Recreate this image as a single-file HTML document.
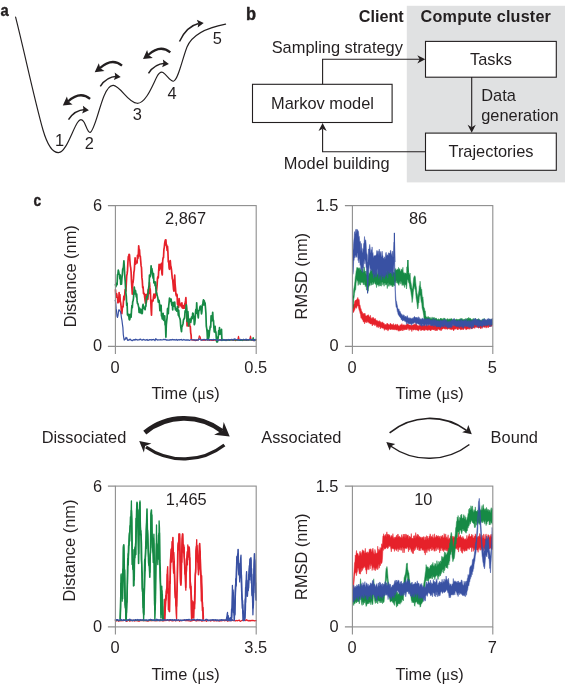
<!DOCTYPE html>
<html lang="en">
<head>
<meta charset="utf-8">
<title>Figure</title>
<style>
html,body{margin:0;padding:0;background:#fff;}
body{width:565px;height:685px;overflow:hidden;}
svg{display:block;}
svg text{font-family:"Liberation Sans","DejaVu Sans",sans-serif;fill:#231f20;}
</style>
</head>
<body>
<svg width="565" height="685" viewBox="0 0 565 685">
<rect width="565" height="685" fill="#fff"/>
<g id="panel-a">
<path fill="none" stroke="#231f20" stroke-width="1.15" stroke-linecap="round" d="M15.6 17.1 C24 50 34 98 43 130 C48 147 53 152.8 58.5 152.6 C66 152.3 72 131 77.5 122.5 C80 118.6 82 118.6 84.3 122.5 C86.5 127 87.8 132.6 90 132.4 C94 132 99 108 104 96 C107.5 87.5 110.5 85 113.5 85.4 C121 86.5 128 103 137.2 103.3 C146 103.5 153 84 157 76.5 C159.5 72 161 71.5 163 72.5 C167 75 170 81.5 173.4 81.2 C178 80.5 182 60 187 47 C192 35 205 28 225.6 24.1"/>
<path d="M68.5 119.7 Q74.5 110.2 85.0 109.6" fill="none" stroke="#231f20" stroke-width="1.5"/><path d="M88.9 110.3 L82.1 113.5 L83.5 109.7 L82.9 105.8 Z" fill="#231f20"/><path d="M90.1 98.9 Q80.0 90.5 68.0 101.5" fill="none" stroke="#231f20" stroke-width="2.3"/><path d="M62.8 105.5 L66.9 96.5 L68.4 101.5 L72.6 104.4 Z" fill="#231f20"/><path d="M100.3 86.3 Q106.3 76.8 116.8 76.2" fill="none" stroke="#231f20" stroke-width="1.5"/><path d="M120.7 76.9 L113.9 80.1 L115.3 76.3 L114.7 72.4 Z" fill="#231f20"/><path d="M122.0 65.6 Q111.9 57.2 99.9 68.2" fill="none" stroke="#231f20" stroke-width="2.3"/><path d="M94.7 72.2 L98.8 63.2 L100.3 68.2 L104.5 71.1 Z" fill="#231f20"/><path d="M148.5 73.4 Q154.5 63.9 165.0 63.3" fill="none" stroke="#231f20" stroke-width="1.5"/><path d="M168.9 64.0 L162.1 67.2 L163.5 63.4 L162.9 59.5 Z" fill="#231f20"/><path d="M170.3 52.4 Q160.2 44.0 148.2 55.0" fill="none" stroke="#231f20" stroke-width="2.3"/><path d="M143.0 59.0 L147.1 50.0 L148.6 55.0 L152.8 57.9 Z" fill="#231f20"/><path d="M179.5 41.5 Q186.5 26.5 198.5 23.6" fill="none" stroke="#231f20" stroke-width="1.5"/><path d="M203.7 22.9 L197.7 27.4 L198.3 23.5 L196.9 19.7 Z" fill="#231f20"/><text x="59.5" y="146.1" text-anchor="middle" font-size="16.4">1</text><text x="89.2" y="149.4" text-anchor="middle" font-size="16.4">2</text><text x="137.2" y="119.8" text-anchor="middle" font-size="16.4">3</text><text x="172.1" y="98.6" text-anchor="middle" font-size="16.4">4</text><text x="217.3" y="44.4" text-anchor="middle" font-size="16.4">5</text></g>
<g id="panel-b">
<rect x="406.8" y="5.8" width="159" height="176.6" fill="#e0e1e2"/>
<g fill="#fff" stroke="#231f20" stroke-width="1.1">
<rect x="425.5" y="41.4" width="130.8" height="35.8"/>
<rect x="425.5" y="133.1" width="130.8" height="37.2"/>
<rect x="252.5" y="84.3" width="139.6" height="38.2"/>
</g>
<path fill="none" stroke="#231f20" stroke-width="1.1" d="M322.6 84.3 V59.3 H420 M471.7 77 V127 M425.1 151.7 H322.6 V129"/>
<path d="M425.3 59.3 l-8 -4.1 l2.4 4.1 l-2.4 4.1 Z" fill="#231f20"/>
<path d="M471.7 132.8 l-4.1 -8 l4.1 2.4 l4.1 -2.4 Z" fill="#231f20"/>
<path d="M322.6 123.1 l-4.1 8 l4.1 -2.4 l4.1 2.4 Z" fill="#231f20"/>
<text x="403.7" y="22" text-anchor="end" font-weight="bold" font-size="16.2">Client</text><text x="420.6" y="22" text-anchor="start" font-weight="bold" font-size="16.2" textLength="130.3" lengthAdjust="spacing">Compute cluster</text><text x="402.9" y="52.8" text-anchor="end" font-size="16.4">Sampling strategy</text><text x="490.9" y="64.8" text-anchor="middle" font-size="16.4">Tasks</text><text x="322.5" y="109" text-anchor="middle" font-size="16.4">Markov model</text><text x="481.2" y="101.2" text-anchor="start" font-size="16.4">Data</text><text x="481.2" y="121" text-anchor="start" font-size="16.4">generation</text><text x="491" y="157.1" text-anchor="middle" font-size="16.4">Trajectories</text><text x="336.7" y="168.8" text-anchor="middle" font-size="16.4">Model building</text></g>
<g id="labels"><text transform="translate(0.4 15.8) scale(0.9 1)" font-weight="bold" font-size="16.4" stroke="#231f20" stroke-width="0.4" stroke-linejoin="round">a</text><text transform="translate(245.9 19.9) scale(0.94 1)" font-weight="bold" font-size="17.5" stroke="#231f20" stroke-width="0.4" stroke-linejoin="round">b</text><text transform="translate(33.5 206) scale(0.84 1)" font-weight="bold" font-size="16.4" stroke="#231f20" stroke-width="0.4" stroke-linejoin="round">c</text></g>
<g id="states"><path d="M144.8 432.6 A 62 62 0 0 1 222 431.2" fill="none" stroke="#231f20" stroke-width="4.8"/><path d="M229.7 436.5 L214.1 434.8 L222.2 430.8 L223.7 422.0 Z" fill="#231f20"/><path d="M224.4 444.9 A 66 66 0 0 1 146 447" fill="none" stroke="#231f20" stroke-width="3.2"/><path d="M139.2 441.0 L151.4 443.6 L145.1 445.9 L143.9 452.5 Z" fill="#231f20"/><path d="M389.6 432.8 A 63 63 0 0 1 466.5 430.3" fill="none" stroke="#231f20" stroke-width="1.6"/><path d="M471.8 434.2 L462.1 432.3 L466.7 429.9 L468.3 425.0 Z" fill="#231f20"/><path d="M469.4 444.5 A 66 66 0 0 1 390.5 446" fill="none" stroke="#231f20" stroke-width="1.5"/><path d="M386.3 442.0 L395.3 444.1 L391.1 446.2 L389.7 450.6 Z" fill="#231f20"/><text x="84" y="442.6" text-anchor="middle" font-size="16.4">Dissociated</text><text x="301.3" y="442.6" text-anchor="middle" font-size="16.4">Associated</text><text x="514.3" y="442.6" text-anchor="middle" font-size="16.4">Bound</text></g>
<g id="charts">
<g>
<polyline points="191.3,340 192.1,339.9 192.9,340.1 193.7,339.9 194.5,340.1 195.3,340.7 196.1,340.2 196.9,340.3 197.7,339.9 198.5,339.9 199.3,335.8 200.1,336.9 200.9,339.9 201.7,340.2 202.5,340 203.3,340.3 204.1,339.9 204.9,340.3 205.7,339.5 206.5,339.9 207.3,339.8 208.1,340.1 208.9,339.7 209.7,340.4 210.5,339.9 211.3,340.3 212.1,340.1 212.9,340.4 213.7,340.4 214.5,340 215.3,340.1 216.1,340.3 216.9,340.1 217.7,340.4 218.5,340.4 219.3,340 220.1,339.6 220.9,340.1 221.7,340.4 222.5,340 223.3,340 224.1,340 224.9,340.2 225.7,340.5 226.5,339.6 227.3,340.3 228.1,340 228.9,339.7 229.7,340.3 230.5,340 231.3,340 232.1,340.1 232.9,339.9 233.7,340.3 234.5,339.9 235.3,340.6 236.1,340.2 236.9,340 237.7,340.1 238.5,336.3 239.3,340.2 240.1,340.3 240.9,339.6 241.7,340.1 242.5,340.3 243.3,340.3 244.1,340 244.9,340 245.7,340.1 246.5,340.3 247.3,340.2 248.1,340.2 248.9,340 249.7,339.9 250.5,336.2 251.3,340.2 252.1,340 252.9,340.2 253.7,340.7 254.5,339.8 255.3,340.4 256.1,339.9" fill="none" stroke="#e6212a" stroke-width="1.2" stroke-linejoin="round" stroke-linecap="round"/><polyline points="115.5,289.8 115.9,295.8 116.3,297.2 116.7,293.9 117.1,296.4 117.5,297.6 117.9,302.8 118.3,301.1 118.7,301.9 119.1,292.6 119.5,301.3 119.9,294.7 120.3,301.2 120.7,302.9 121.1,306.3 121.5,313 121.9,313.5 122.3,308.4 122.7,306.4 123.1,306.9 123.5,300.1 123.9,296.1 124.3,299.8 124.7,295 125.1,289.7 125.5,291.5 125.9,291 126.3,283.4 126.7,275.9 127.1,273.9 127.5,270.4 127.9,262.6 128.3,256.7 128.7,255.7 129.1,254.3 129.5,254.8 129.9,260.8 130.3,265.8 130.7,267.6 131.1,272 131.5,281.7 131.9,287.7 132.3,294.1 132.7,283.6 133.1,282.2 133.5,278.4 133.9,272.4 134.3,270.2 134.7,263.5 135.1,257.8 135.5,264.2 135.9,262.5 136.3,261.9 136.7,261.2 137.1,262.9 137.5,255.3 137.9,258.5 138.3,255.7 138.7,245.9 139.1,249.5 139.5,249.7 139.9,256.3 140.3,256.1 140.7,260.8 141.1,265.9 141.5,267.6 141.9,277.4 142.3,280.6 142.7,287.8 143.1,286.7 143.5,293.4 143.9,293.9 144.3,293.5 144.7,297.5 145.1,300.6 145.5,303.5 145.9,294.6 146.3,302.7 146.7,300.2 147.1,297.4 147.5,293.5 147.9,299.1 148.3,289.7 148.7,293.1 149.1,293.3 149.5,282.5 149.9,287.9 150.3,290 150.7,299.7 151.1,308.6 151.5,315.2 151.9,300.4 152.3,300.7 152.7,301.3 153.1,300.6 153.5,296.9 153.9,294.2 154.3,298.1 154.7,298 155.1,297.5 155.5,293.8 155.9,295.1 156.3,292.8 156.7,289.5 157.1,285.2 157.5,278.2 157.9,276.7 158.3,277.9 158.7,270.5 159.1,264.3 159.5,270.1 159.9,265.2 160.3,268.6 160.7,264.3 161.1,264.5 161.5,263.4 161.9,273.5 162.3,274.9 162.7,260.9 163.1,257.7 163.5,257.6 163.9,249.5 164.3,247.3 164.7,243.2 165.1,241 165.5,239.8 165.9,239.8 166.3,245.7 166.7,244.9 167.1,250.4 167.5,246.3 167.9,251.7 168.3,261.9 168.7,261.1 169.1,268 169.5,269.3 169.9,266.9 170.3,260.7 170.7,265.9 171.1,267 171.5,269.8 171.9,274.3 172.3,278.5 172.7,279.7 173.1,284.5 173.5,289 173.9,291.2 174.3,284.7 174.7,275.2 175.1,284.1 175.5,288.3 175.9,294.1 176.3,295.9 176.7,294 177.1,294.9 177.5,304.3 177.9,301.7 178.3,305.9 178.7,307.2 179.1,298.7 179.5,302.7 179.9,303.3 180.3,304.5 180.7,305.6 181.1,305.7 181.5,306.7 181.9,302.8 182.3,307.9 182.7,306.4 183.1,308.2 183.5,305.7 183.9,308.2 184.3,308.1 184.7,304.9 185.1,303.3 185.5,300.9 185.9,297.7 186.3,306 186.7,315.5 187.1,326 187.5,324.4 187.9,325.6 188.3,319.5 188.7,325.7 189.1,322 189.5,323.3 189.9,326.2 190.3,326.4 190.7,332.8 191.1,334.8 191.3,338.9" fill="none" stroke="#e6212a" stroke-width="1.7" stroke-linejoin="round" stroke-linecap="round"/><polyline points="222,339.7 222.8,340.2 223.6,339.9 224.4,340.1 225.2,339.8 226,340.6 226.8,339.8 227.6,340 228.4,339.9 229.2,340.5 230,340.1 230.8,339.7 231.6,339.9 232.4,339.8 233.2,339.8 234,340 234.8,339.6 235.6,340.2 236.4,339.5 237.2,340 238,340.2 238.8,340.1 239.6,340.5 240.4,340.1 241.2,340.3 242,339.9 242.8,340.5 243.6,339.4 244.4,340.1 245.2,339.8 246,340.2 246.8,339.8 247.6,340 248.4,340.1 249.2,339.8 250,340 250.8,340.2 251.6,339.9 252.4,339.9 253.2,337.5 254,340.5 254.8,339.8 255.6,340.2" fill="none" stroke="#168a45" stroke-width="1.2" stroke-linejoin="round" stroke-linecap="round"/><polyline points="115.5,284.6 115.9,286.6 116.3,284.5 116.7,283.2 117.1,284.7 117.5,274.6 117.9,274.3 118.3,270.2 118.7,271.7 119.1,274.3 119.5,274.4 119.9,279 120.3,275 120.7,284.3 121.1,279.4 121.5,284.1 121.9,278.1 122.3,275 122.7,269.1 123.1,268.6 123.5,266.3 123.9,260.8 124.3,266.9 124.7,274.7 125.1,279.9 125.5,286.5 125.9,293.1 126.3,296.4 126.7,305.5 127.1,303.1 127.5,315 127.9,314.4 128.3,315.7 128.7,314.3 129.1,319 129.5,319.8 129.9,318.9 130.3,314.5 130.7,314.2 131.1,317.1 131.5,310.7 131.9,305.5 132.3,307.7 132.7,301.6 133.1,300.9 133.5,298 133.9,292.1 134.3,287.1 134.7,291.5 135.1,293.8 135.5,290.6 135.9,293.7 136.3,296.9 136.7,294 137.1,300.9 137.5,303.7 137.9,303.6 138.3,305.5 138.7,307.1 139.1,312.4 139.5,308 139.9,309.3 140.3,312.9 140.7,310.2 141.1,309.4 141.5,310.6 141.9,313.6 142.3,313.1 142.7,306.2 143.1,304.4 143.5,308.3 143.9,307.8 144.3,307.5 144.7,308.8 145.1,309.7 145.5,305.9 145.9,306.2 146.3,299.8 146.7,296.6 147.1,297.9 147.5,296.2 147.9,293.4 148.3,290.1 148.7,287.7 149.1,285.2 149.5,275 149.9,275.6 150.3,276.7 150.7,274.6 151.1,265.8 151.5,271.4 151.9,268.6 152.3,271.2 152.7,274.8 153.1,278.2 153.5,273.7 153.9,283 154.3,282.3 154.7,281.9 155.1,285.6 155.5,282 155.9,288.7 156.3,293.4 156.7,292.9 157.1,295.1 157.5,296.6 157.9,298.3 158.3,302.2 158.7,300.1 159.1,300.4 159.5,304.1 159.9,310.6 160.3,305.2 160.7,309.7 161.1,305.3 161.5,316 161.9,315.8 162.3,318.9 162.7,315.5 163.1,313.4 163.5,320 163.9,320.4 164.3,316.4 164.7,315.9 165.1,324.7 165.5,325.8 165.9,337.1 166.3,324.9 166.7,320.8 167.1,317.7 167.5,308.7 167.9,308.2 168.3,313.6 168.7,306 169.1,302.3 169.5,298.1 169.9,301.4 170.3,299.3 170.7,299 171.1,299.1 171.5,303.1 171.9,305.3 172.3,304.1 172.7,310 173.1,302.4 173.5,304.1 173.9,306.2 174.3,306.1 174.7,302.1 175.1,307.2 175.5,310 175.9,308.7 176.3,308.7 176.7,311.1 177.1,310.4 177.5,306.3 177.9,309.7 178.3,315.3 178.7,310.4 179.1,316.4 179.5,317.5 179.9,318.4 180.3,320.4 180.7,326.2 181.1,329.2 181.5,331.6 181.9,325.9 182.3,326.1 182.7,324.7 183.1,323.2 183.5,319.6 183.9,319 184.3,318.7 184.7,316.8 185.1,310.8 185.5,312.3 185.9,308.9 186.3,304.8 186.7,308.5 187.1,321.4 187.5,313.3 187.9,311.5 188.3,318.1 188.7,326 189.1,320.7 189.5,321.5 189.9,319 190.3,319 190.7,322.5 191.1,320.6 191.5,317.1 191.9,318.8 192.3,318.2 192.7,313.1 193.1,313.4 193.5,316.3 193.9,316.4 194.3,324.7 194.7,323.7 195.1,319.8 195.5,312.4 195.9,309.3 196.3,313.4 196.7,302.8 197.1,310 197.5,310.1 197.9,315.2 198.3,317.9 198.7,311.4 199.1,310.6 199.5,309.4 199.9,307.1 200.3,306.1 200.7,306.5 201.1,310.5 201.5,313.8 201.9,311.7 202.3,304.9 202.7,305.4 203.1,301.5 203.5,299.8 203.9,304.8 204.3,300.8 204.7,303.5 205.1,303 205.5,308 205.9,313.3 206.3,326 206.7,328.3 207.1,331.9 207.5,339.8 207.9,330.4 208.3,337.4 208.7,338.2 209.1,336 209.5,331.1 209.9,329.2 210.3,326.2 210.7,327.2 211.1,315.8 211.5,320 211.9,320.8 212.3,317.4 212.7,312.4 213.1,319.6 213.5,320.5 213.9,327.6 214.3,331.8 214.7,330.3 215.1,326.4 215.5,332.8 215.9,331.7 216.3,337.7 216.7,341.9 217.1,337.5 217.5,341.8 217.9,339.4 218.3,336.2 218.7,330.7 219.1,333.1 219.5,327.7 219.9,334.4 220.3,330.9 220.7,333.9 221.1,332.9 221.5,329.4 221.9,340.5 222,338.9" fill="none" stroke="#168a45" stroke-width="1.7" stroke-linejoin="round" stroke-linecap="round"/><polyline points="115.2,300.3 115.7,302.2 116.1,308.4 116.6,311.7 117,316.2 117.5,317.4 117.9,315.9 118.4,312.5 118.8,309.8 119.3,309.9 119.7,310.7 120.2,311.1 120.6,312.1 121.1,314.9 121.5,318.1 122,320.7 122.4,324 122.9,327.6 123.3,334.5 123.8,338.1 124.2,340.2 124.7,339.1 125.1,339.4 125.6,338.6 126,337.3 126.5,338.7 126.9,337.9 127.4,339.9 127.8,339.8" fill="none" stroke="#3951a3" stroke-width="1.2" stroke-linejoin="round" stroke-linecap="round"/><polyline points="127.8,340.3 128.6,340 129.4,339.8 130.2,339.1 131,340.1 131.8,340.5 132.6,340.5 133.4,339.9 134.2,339.6 135,340.1 135.8,339.2 136.6,339.7 137.4,340 138.2,339.9 139,339.9 139.8,339.4 140.6,339.2 141.4,339.9 142.2,340.1 143,339.7 143.8,339.5 144.6,339.9 145.4,340.2 146.2,339.8 147,339.5 147.8,340.4 148.6,340.1 149.4,339.7 150.2,339.8 151,339.5 151.8,340.2 152.6,339.6 153.4,339.5 154.2,339.8 155,340.5 155.8,338.8 156.6,339.4 157.4,340.1 158.2,339.9 159,339.9 159.8,339.8 160.6,339.7 161.4,339.9 162.2,339.9 163,339.7 163.8,339.4 164.6,339.6 165.4,339.3 166.2,340 167,339.8 167.8,340.1 168.6,340.2 169.4,339.8 170.2,340 171,339.7 171.8,340 172.6,339.4 173.4,339.8 174.2,339.7 175,340 175.8,339.9 176.6,339.5 177.4,340.3 178.2,339.8 179,339.6 179.8,340 180.6,339.6 181.4,339.5 182.2,340.2 183,340 183.8,339.5 184.6,339.8 185.4,340.2 186.2,339.9 187,340 187.8,339.8 188.6,340 189.4,340.3 190.2,340 191,339.7 191.8,339.7 192.6,339.9 193.4,339.8 194.2,340 195,340 195.8,340 196.6,339.9 197.4,340.1 198.2,340.2 199,338.9 199.8,339.3 200.6,339.8 201.4,340 202.2,340 203,339.5 203.8,339.6 204.6,339.5 205.4,340.1 206.2,339.8 207,339.2 207.8,339.8 208.6,339.6 209.4,340.1 210.2,339.7 211,339.6 211.8,339.7 212.6,340.1 213.4,339.5 214.2,339.7 215,339.6 215.8,339.7 216.6,340.1 217.4,340 218.2,340.3 219,340 219.8,339.8 220.6,340.3 221.4,339.8 222.2,340.3 223,339.9 223.8,339.5 224.6,340.2 225.4,339.9 226.2,340 227,340 227.8,339.8 228.6,339.5 229.4,340.1 230.2,339.7 231,339.7 231.8,339.3 232.6,339.9 233.4,340 234.2,339 235,339.1 235.8,339.4 236.6,339.6 237.4,339.8 238.2,339.6 239,340.1 239.8,340.1 240.6,339.4 241.4,339.9 242.2,339.8 243,339.7 243.8,339.5 244.6,339.9 245.4,339.6 246.2,339.1 247,340 247.8,339.7 248.6,339.8 249.4,339.4 250.2,339.5 251,339.6 251.8,340 252.6,340 253.4,339.7 254.2,340.7 255,339.6 255.8,339.3" fill="none" stroke="#3951a3" stroke-width="1.3" stroke-linejoin="round" stroke-linecap="round"/>
<g fill="none" stroke="#8e8e8e" stroke-width="1.1"><rect x="115.4" y="205.6" width="140.8" height="140.8"/><path d="M107.9 205.6H115.4 M107.9 346.4H115.4 M115.4 346.4V353.9 M256.2 346.4V353.9"/></g>
<text x="102.1" y="211.4" text-anchor="end" font-size="16.4">6</text>
<text x="102.1" y="351.4" text-anchor="end" font-size="16.4">0</text>
<text x="115.1" y="372.6" text-anchor="middle" font-size="16.4">0</text>
<text x="255.7" y="372.6" text-anchor="middle" font-size="16.4">0.5</text>
<text transform="translate(76.2 276.2) rotate(-90)" text-anchor="middle" font-size="16.4">Distance (nm)</text>
<text x="185.6" y="399.4" text-anchor="middle" font-size="16.4">Time (<tspan font-family="'Liberation Serif', 'DejaVu Serif', serif">μ</tspan>s)</text>
<text x="185.5" y="224.2" text-anchor="middle" font-size="16.4">2,867</text>
</g>
<g>
<polygon points="352.9,305 353.3,304.7 353.8,304.1 354.2,304 354.7,301.4 355.1,300.4 355.6,300.6 356,300 356.5,300 356.9,299.2 357.4,298.4 357.8,297.4 358.3,299.2 358.7,299.5 359.2,299.6 359.6,304.4 360.1,305.3 360.5,308.2 361,308.4 361.4,310.5 361.9,311.6 362.3,312 362.8,313.5 363.2,314.3 363.7,313.5 364.1,313 364.6,314.4 365,313.3 365.5,315.5 365.9,316 366.4,316.1 366.8,315.7 367.3,315 367.7,316 368.2,314.6 368.6,315.3 369.1,316.5 369.5,316.9 370,316.6 370.4,315.2 370.9,318.3 371.3,318.2 371.8,318.5 372.2,317.6 372.7,318.7 373.1,317.2 373.6,318.3 374,318.5 374.5,319.2 374.9,318.6 375.4,318.6 375.8,319.7 376.3,320.4 376.7,320.6 377.2,320.3 377.6,321.2 378.1,321 378.5,321.2 379,321.9 379.4,320.6 379.9,322.1 380.3,321.6 380.8,322.4 381.2,321.9 381.7,323.3 382.1,323.1 382.6,321.8 383,322.6 383.5,323.8 383.9,323 384.4,324.2 384.8,324.8 385.3,324.2 385.7,324.8 386.2,325 386.6,323.7 387.1,324 387.5,323.1 388,324.3 388.4,324.6 388.9,324.4 389.3,325.3 389.8,324.4 390.2,323.3 390.7,323.6 391.1,324 391.6,324.4 392,324.5 392.5,324.7 392.9,324.7 393.4,323.5 393.8,325.2 394.3,325 394.7,325.3 395.2,324.9 395.6,323.9 396.1,325.7 396.5,324.7 397,324.8 397.4,324.2 397.9,324.6 398.3,325.8 398.8,326 399.2,326.2 399.7,325.8 400.1,324.8 400.6,325.3 401,324.6 401.5,325.3 401.9,323.6 402.4,325.5 402.8,324.9 403.3,324.8 403.7,325.1 404.2,325.5 404.6,324.8 405.1,324.9 405.5,325.2 406,325.3 406.4,324.3 406.9,324.8 407.3,323.7 407.8,323.9 408.2,324.5 408.7,324.5 409.1,325 409.6,325.1 410,324.7 410.5,325 410.9,325.5 411.4,325.3 411.8,325.3 412.3,325.1 412.7,325.3 413.2,325.1 413.6,325 414.1,323.8 414.5,324.5 415,325.3 415.4,323.9 415.9,323.3 416.3,323.9 416.8,324.5 417.2,325.6 417.7,325.5 418.1,325.7 418.6,325.8 419,325.4 419.5,325 419.9,325.5 420.4,324.6 420.8,325.5 421.3,325.2 421.7,325.8 422.2,324.8 422.6,325.5 423.1,325.6 423.5,325.3 424,325.1 424.4,324.5 424.9,325.7 425.3,325.7 425.8,325 426.2,324.1 426.7,325.6 427.1,325.4 427.6,325.8 428,325.1 428.5,325.4 428.9,324.7 429.4,325.6 429.8,325.2 430.3,325.7 430.7,324.5 431.2,324.7 431.6,325.6 432.1,324.6 432.5,324.5 433,325.5 433.4,325.3 433.9,325.4 434.3,324.6 434.8,325.6 435.2,325.3 435.7,324.4 436.1,323.9 436.6,325.2 437,324.9 437.5,324.4 437.9,324.5 438.4,324.6 438.8,324.7 439.3,323.3 439.7,324.4 440.2,324.8 440.6,324.8 441.1,324.4 441.5,325.2 442,325 442.4,324.8 442.9,323.2 443.3,324.4 443.8,323.9 444.2,324.5 444.7,324 445.1,324.9 445.6,324.1 446,323.7 446.5,325 446.9,325.1 447.4,325 447.8,323.7 448.3,325.2 448.7,324.9 449.2,324.9 449.6,325 450.1,323.5 450.5,325 451,323.9 451.4,325.4 451.9,325 452.3,325.2 452.8,325.3 453.2,325.8 453.7,325.3 454.1,323.9 454.6,325.6 455,324.6 455.5,324 455.9,323.9 456.4,324.6 456.8,324.6 457.3,323.7 457.7,324.5 458.2,323.9 458.6,324 459.1,324.6 459.5,323.3 460,324.5 460.4,324.8 460.9,323.8 461.3,323.4 461.8,324.4 462.2,324.7 462.7,324 463.1,324.1 463.6,324.8 464,323.5 464.5,324.5 464.9,323.9 465.4,323.7 465.8,324.7 466.3,324.5 466.7,323.3 467.2,324.8 467.6,324.2 468.1,324.7 468.5,324.9 469,324.7 469.4,324.6 469.9,324.5 470.3,324.3 470.8,322.9 471.2,324.1 471.7,324.2 472.1,324.2 472.6,322.3 473,323.3 473.5,323.7 473.9,322.6 474.4,323.3 474.8,322.3 475.3,323.2 475.7,322.2 476.2,322.4 476.6,322.2 477.1,322 477.5,323 478,322.1 478.4,323.3 478.9,322.5 479.3,322.3 479.8,323.3 480.2,323 480.7,323.3 481.1,323.2 481.6,323.1 482,323 482.5,322.8 482.9,323 483.4,323.4 483.8,322.7 484.3,323.1 484.7,323 485.2,322.8 485.6,323.3 486.1,322.9 486.5,322.5 487,323 487.4,323 487.9,321.3 488.3,323 488.8,321.6 489.2,321.1 489.7,320.8 490.1,321.2 490.6,321.7 491,321 491.5,322.1 491.9,321.6 492.4,322 492.4,325.6 491.9,326.4 491.5,325.9 491,326 490.6,326.6 490.1,326.3 489.7,326.4 489.2,327 488.8,326.2 488.3,327.9 487.9,326.2 487.4,327 487,327.6 486.5,326.7 486.1,328.2 485.6,326.7 485.2,326.7 484.7,327.5 484.3,327.2 483.8,326.8 483.4,327.3 482.9,327 482.5,327.2 482,328.6 481.6,327.6 481.1,327.8 480.7,328.9 480.2,328.1 479.8,327.2 479.3,327.4 478.9,328.2 478.4,327.9 478,328 477.5,327 477.1,326.8 476.6,327.5 476.2,327 475.7,326.9 475.3,327.6 474.8,328.5 474.4,328.1 473.9,327.3 473.5,328.1 473,327.9 472.6,328.5 472.1,328.9 471.7,328.6 471.2,328.1 470.8,328 470.3,328.4 469.9,329.4 469.4,328 469,329.2 468.5,328.8 468.1,328.5 467.6,329.1 467.2,328.9 466.7,329.6 466.3,329.6 465.8,329.7 465.4,328.4 464.9,328.5 464.5,328.2 464,328.4 463.6,329.8 463.1,329 462.7,329.6 462.2,328.8 461.8,329.5 461.3,329.4 460.9,329.7 460.4,329.6 460,329.4 459.5,328.5 459.1,329 458.6,328.6 458.2,329.7 457.7,329 457.3,329.9 456.8,328.8 456.4,328.6 455.9,328.8 455.5,329.2 455,329 454.6,329.3 454.1,329.5 453.7,330.9 453.2,330.1 452.8,329.4 452.3,329.1 451.9,329.5 451.4,329.8 451,329.1 450.5,329.2 450.1,329.6 449.6,328.8 449.2,328.7 448.7,328.7 448.3,328.7 447.8,328.7 447.4,329.5 446.9,329.1 446.5,328.4 446,329.4 445.6,329.1 445.1,328.5 444.7,329.2 444.2,328.4 443.8,328.4 443.3,328.3 442.9,329.1 442.4,328.9 442,329 441.5,330.6 441.1,328.9 440.6,330.6 440.2,329.2 439.7,330.2 439.3,329.8 438.8,329.4 438.4,329.1 437.9,328.9 437.5,330.5 437,330.1 436.6,330.8 436.1,330.1 435.7,329.6 435.2,331 434.8,329.9 434.3,329.4 433.9,329.9 433.4,329.9 433,329.3 432.5,329.5 432.1,329.9 431.6,329.4 431.2,330.4 430.7,330 430.3,331 429.8,329.4 429.4,329.9 428.9,329.9 428.5,329.5 428,330.7 427.6,330.3 427.1,329.9 426.7,329.7 426.2,330 425.8,329.7 425.3,329.6 424.9,330.5 424.4,330 424,330.7 423.5,329.7 423.1,329.9 422.6,329.9 422.2,329.7 421.7,330.4 421.3,330.1 420.8,330.7 420.4,329.8 419.9,329.2 419.5,329.4 419,329.5 418.6,331.2 418.1,329.9 417.7,330.5 417.2,330 416.8,329.5 416.3,330.2 415.9,329.4 415.4,330 415,330.2 414.5,329.3 414.1,329.4 413.6,330 413.2,330.3 412.7,329.6 412.3,329.6 411.8,331.6 411.4,329.5 410.9,329.9 410.5,329.3 410,329.3 409.6,328.9 409.1,330.6 408.7,329.4 408.2,328.6 407.8,328.2 407.3,329.3 406.9,329.9 406.4,329.4 406,329.3 405.5,329.9 405.1,329.3 404.6,329.7 404.2,330.1 403.7,330.4 403.3,329.5 402.8,329.2 402.4,330.9 401.9,329.7 401.5,330 401,330.7 400.6,330.5 400.1,330.5 399.7,330.1 399.2,331.3 398.8,330.3 398.3,331.2 397.9,330.5 397.4,329.4 397,329.9 396.5,330 396.1,329.8 395.6,329.7 395.2,329.6 394.7,329.9 394.3,328.9 393.8,329.7 393.4,329.5 392.9,329.2 392.5,329.6 392,329.5 391.6,328.9 391.1,329.6 390.7,330 390.2,329.3 389.8,328.8 389.3,329.3 388.9,329.8 388.4,329.4 388,331.1 387.5,329.4 387.1,329.2 386.6,330.1 386.2,329.3 385.7,329.5 385.3,328.9 384.8,328.8 384.4,330.4 383.9,328.8 383.5,328.3 383,328.2 382.6,328.2 382.1,328 381.7,328.1 381.2,327.1 380.8,327.5 380.3,328.9 379.9,326.5 379.4,326.7 379,327.3 378.5,327.6 378.1,326.1 377.6,326.4 377.2,327.4 376.7,327.1 376.3,325.2 375.8,325.6 375.4,324.8 374.9,324.5 374.5,325.6 374,324.5 373.6,324.6 373.1,323.9 372.7,325.1 372.2,326 371.8,323.7 371.3,323.9 370.9,324 370.4,324 370,323.5 369.5,322.9 369.1,323.3 368.6,322.2 368.2,322.1 367.7,322.4 367.3,321.5 366.8,321.4 366.4,322.8 365.9,321.9 365.5,322.2 365,321.5 364.6,323.9 364.1,321.4 363.7,322 363.2,321.8 362.8,319.7 362.3,319.8 361.9,318.9 361.4,317.4 361,318.2 360.5,314.4 360.1,313.5 359.6,311.2 359.2,310.2 358.7,308.6 358.3,305.9 357.8,305.7 357.4,306.1 356.9,306.9 356.5,308.4 356,307 355.6,307.7 355.1,308.6 354.7,310.1 354.2,310.8 353.8,312 353.3,312.5 352.9,312.7" fill="#e6212a" stroke="#e6212a" stroke-width="0.5" stroke-linejoin="round"/><polygon points="352.9,297.1 353.3,294.7 353.7,289.5 354.1,287.2 354.5,284.7 354.9,281.6 355.3,277.2 355.7,275.2 356.1,271.4 356.5,269.8 356.9,267.4 357.3,267.9 357.7,267.5 358.1,269 358.5,268.7 358.9,267.7 359.3,270.7 359.7,267.8 360.1,269.7 360.5,269.8 360.9,268.7 361.3,268.7 361.7,271 362.1,271.1 362.5,272.2 362.9,269 363.3,272.2 363.7,272 364.1,266.8 364.5,269.6 364.9,271.9 365.3,271 365.7,272.2 366.1,275 366.5,273.9 366.9,270.8 367.3,273 367.7,276.2 368.1,275.8 368.5,274.9 368.9,272.5 369.3,273.8 369.7,273.4 370.1,271.7 370.5,270.4 370.9,271.3 371.3,270.9 371.7,266.4 372.1,268.1 372.5,269.6 372.9,267.3 373.3,267.6 373.7,267.8 374.1,268.2 374.5,271.1 374.9,269.8 375.3,268.7 375.7,272.8 376.1,272.7 376.5,271.5 376.9,272.8 377.3,274.1 377.7,274.7 378.1,270.6 378.5,273.6 378.9,271.3 379.3,271.3 379.7,271.1 380.1,272 380.5,272 380.9,270.9 381.3,271.1 381.7,267.7 382.1,270.1 382.5,271.3 382.9,270.6 383.3,271 383.7,270.2 384.1,272.3 384.5,272.7 384.9,269 385.3,270.6 385.7,269.3 386.1,273.1 386.5,272.3 386.9,270.7 387.3,270.8 387.7,269.4 388.1,272.1 388.5,270.5 388.9,270.4 389.3,270.8 389.7,267.8 390.1,273.2 390.5,272.5 390.9,273 391.3,272.3 391.7,272.9 392.1,274.3 392.5,270.3 392.9,272.5 393.3,272.1 393.7,272.4 394.1,272.6 394.5,273 394.9,269.6 395.3,270.7 395.7,268.5 396.1,269.8 396.5,270.3 396.9,269.8 397.3,269.3 397.7,269.6 398.1,269.6 398.5,267.4 398.9,270 399.3,269.2 399.7,268.6 400.1,270.4 400.5,270.9 400.9,271.4 401.3,269.3 401.7,269.4 402.1,269.6 402.5,270.8 402.9,267.3 403.3,273 403.7,272.8 404.1,272.9 404.5,274.4 404.9,272.6 405.3,273.5 405.7,273.1 406.1,273.6 406.5,274.3 406.9,266.8 407.3,268.4 407.7,267.5 408.1,271.2 408.5,272.5 408.9,272.2 409.3,275 409.7,274.7 410.1,273.1 410.5,280 410.9,282.3 411.3,284.3 411.7,287.6 412.1,289.1 412.5,289.1 412.9,285.8 413.3,281.5 413.7,277.8 414.1,276.9 414.5,275.9 414.9,275.7 415.3,276.9 415.7,281.6 416.1,285.8 416.5,288.2 416.9,293 417.3,294.3 417.7,297.4 418.1,295.5 418.5,293 418.9,290.8 419.3,285.7 419.7,285.8 420.1,281.2 420.5,286.2 420.9,287.2 421.3,290.2 421.7,289.3 422.1,294.6 422.5,298.4 422.9,296.9 423.3,301.1 423.7,306.4 424.1,307.8 424.5,308.4 424.9,311 425.3,311 425.7,315.4 426.1,316.4 426.5,317.8 426.9,317 427.3,317.6 427.7,318 428.1,316.2 428.5,318.3 428.9,317.2 429.3,318.5 429.7,317.5 430.1,317.2 430.5,318.4 430.9,318.5 431.3,318.4 431.7,318.4 432.1,316.9 432.5,318.6 432.9,318.4 433.3,318.1 433.7,317.5 434.1,317.5 434.5,317.7 434.9,318.9 435.3,318.6 435.7,318.1 436.1,317.9 436.5,318.5 436.9,318.7 437.3,319.4 437.7,319.5 438.1,319.4 438.5,318.7 438.9,318.9 439.3,319.5 439.7,319.4 440.1,318.7 440.5,318.5 440.9,318 441.3,319.2 441.7,318.5 442.1,319 442.5,319.4 442.9,318.6 443.3,318.4 443.7,319.9 444.1,317.9 444.5,319.4 444.9,318.2 445.3,319.3 445.7,319.8 446.1,319.8 446.5,319.3 446.9,319.7 447.3,318.4 447.7,318.9 448.1,319.4 448.5,319.2 448.9,319.3 449.3,319.2 449.7,318.9 450.1,318.9 450.5,319.3 450.9,318.5 451.3,318.8 451.7,318.8 452.1,318.8 452.5,319.7 452.9,319.9 453.3,319.7 453.7,319.3 454.1,319.5 454.5,319.2 454.9,319.5 455.3,319.5 455.7,319.7 456.1,319.7 456.5,318.9 456.9,319 457.3,319.6 457.7,319.9 458.1,319.1 458.5,319.7 458.9,320.1 459.3,319.3 459.7,319 460.1,318.7 460.5,319.3 460.9,318.3 461.3,318.9 461.7,318.4 462.1,318.9 462.5,318.8 462.9,319.9 463.3,319.9 463.7,319.3 464.1,320 464.5,318.9 464.9,319.9 465.3,319.8 465.7,318.4 466.1,319.3 466.5,319.3 466.9,318.5 467.3,319.6 467.7,318.1 468.1,318.8 468.5,317.4 468.9,318.7 469.3,319 469.7,317.9 470.1,318.1 470.5,318.5 470.9,319.1 471.3,319.2 471.7,319.8 472.1,319.5 472.5,319.4 472.9,319.1 473.3,318.3 473.7,319.6 474.1,319.3 474.5,319.8 474.9,320 475.3,318.4 475.7,320.1 476.1,319.5 476.5,320.2 476.9,320.3 477.3,319.1 477.7,319.6 478.1,319.9 478.5,318.7 478.9,318.6 479.3,320.4 479.7,320 480.1,319.8 480.5,320.6 480.9,320.8 481.3,320.7 481.7,319.7 482.1,320.3 482.5,320.2 482.9,318.8 483.3,319.8 483.7,320.1 484.1,318.3 484.5,320 484.9,319.7 485.3,320.5 485.7,320.6 486.1,320.9 486.5,320.2 486.9,321.1 487.3,320.6 487.7,320.8 488.1,320.6 488.5,320.5 488.9,319.6 489.3,320.6 489.7,318.9 490.1,319.7 490.5,320.1 490.9,319.8 491.3,319.6 491.7,320.6 492.1,319.1 492.5,320.2 492.5,324.4 492.1,324.2 491.7,324.9 491.3,323.8 490.9,324.7 490.5,323.4 490.1,323.7 489.7,323.5 489.3,323.9 488.9,324.4 488.5,323.9 488.1,324.8 487.7,324.6 487.3,324.8 486.9,325.3 486.5,324.9 486.1,324.5 485.7,324 485.3,323.9 484.9,324 484.5,323.4 484.1,324 483.7,324.3 483.3,324.2 482.9,323.7 482.5,324.1 482.1,324.2 481.7,324.7 481.3,324.5 480.9,325.3 480.5,324.4 480.1,324.1 479.7,325.1 479.3,325.4 478.9,323.8 478.5,324.1 478.1,324.4 477.7,324.8 477.3,324 476.9,323.5 476.5,323.4 476.1,323.7 475.7,324 475.3,324.1 474.9,323.6 474.5,324.3 474.1,323.5 473.7,324.4 473.3,324.8 472.9,324.1 472.5,324 472.1,323.4 471.7,323.6 471.3,323.1 470.9,323.6 470.5,322.9 470.1,323.3 469.7,322.5 469.3,322.6 468.9,322.8 468.5,322.6 468.1,323 467.7,323.4 467.3,323.5 466.9,323.3 466.5,323 466.1,323.3 465.7,323.3 465.3,324.2 464.9,323.7 464.5,324.6 464.1,323.7 463.7,324.5 463.3,323.4 462.9,323.9 462.5,324.3 462.1,323.3 461.7,322.9 461.3,323.4 460.9,323.6 460.5,323.2 460.1,323.4 459.7,323.7 459.3,323.5 458.9,323.4 458.5,323.6 458.1,324.4 457.7,324.7 457.3,323.8 456.9,324.7 456.5,323.4 456.1,323.7 455.7,324.1 455.3,325.5 454.9,323.9 454.5,323.4 454.1,323.6 453.7,323.9 453.3,323.6 452.9,323.4 452.5,323.6 452.1,324 451.7,323.9 451.3,323.4 450.9,323.1 450.5,322.9 450.1,323.1 449.7,323.6 449.3,323 448.9,323.1 448.5,323.7 448.1,323.6 447.7,322.9 447.3,323.1 446.9,323.3 446.5,323.4 446.1,323.8 445.7,324.2 445.3,323.9 444.9,325.1 444.5,323.6 444.1,323.8 443.7,323.7 443.3,323.6 442.9,323.8 442.5,323.6 442.1,323.6 441.7,322.9 441.3,323.4 440.9,323.2 440.5,324.2 440.1,323.5 439.7,323.7 439.3,323 438.9,323.4 438.5,323.4 438.1,324.6 437.7,324.2 437.3,323 436.9,323.4 436.5,323.7 436.1,322.8 435.7,323.5 435.3,323.5 434.9,323.2 434.5,322.3 434.1,322.6 433.7,322.2 433.3,323.3 432.9,323.5 432.5,323.3 432.1,323.4 431.7,323.1 431.3,323.5 430.9,322.4 430.5,322.9 430.1,322 429.7,322.4 429.3,322.1 428.9,322 428.5,323.2 428.1,322 427.7,321.5 427.3,322.3 426.9,321.4 426.5,322.7 426.1,322.7 425.7,320.7 425.3,320.6 424.9,321.1 424.5,320.7 424.1,320 423.7,315.4 423.3,313 422.9,310.8 422.5,309.5 422.1,307.8 421.7,302.8 421.3,302.6 420.9,299.5 420.5,295 420.1,295.5 419.7,295.2 419.3,297.4 418.9,303 418.5,302.1 418.1,307.9 417.7,309 417.3,306.3 416.9,302.8 416.5,300.2 416.1,298.1 415.7,292.8 415.3,289.7 414.9,288.9 414.5,285.7 414.1,287.3 413.7,289.5 413.3,292.3 412.9,297.9 412.5,300 412.1,302.6 411.7,297 411.3,295.2 410.9,292.1 410.5,289.8 410.1,289.1 409.7,286.7 409.3,283.9 408.9,283.1 408.5,282.3 408.1,280.5 407.7,279.2 407.3,280.3 406.9,284.8 406.5,289 406.1,285.8 405.7,283.9 405.3,284.9 404.9,285.2 404.5,287.5 404.1,283.5 403.7,285.4 403.3,283 402.9,285.2 402.5,282.7 402.1,285.6 401.7,281.6 401.3,282.3 400.9,284.2 400.5,281.9 400.1,281.1 399.7,282.5 399.3,283.5 398.9,285.4 398.5,284.6 398.1,283.4 397.7,282.1 397.3,283.4 396.9,280.8 396.5,281.1 396.1,283 395.7,281.9 395.3,281 394.9,282.1 394.5,285.9 394.1,284.3 393.7,285.4 393.3,284.8 392.9,287 392.5,284.8 392.1,286.6 391.7,285.4 391.3,285 390.9,284.9 390.5,284.2 390.1,285.8 389.7,284.6 389.3,283.9 388.9,286.5 388.5,285.6 388.1,282.6 387.7,283.4 387.3,288.6 386.9,285.2 386.5,284.2 386.1,284.7 385.7,285 385.3,283.6 384.9,283 384.5,283.3 384.1,286.3 383.7,283.7 383.3,283.2 382.9,285.2 382.5,282.3 382.1,282.3 381.7,282.7 381.3,286.3 380.9,282.3 380.5,285.9 380.1,283 379.7,284.8 379.3,285.9 378.9,286.4 378.5,285.2 378.1,284.4 377.7,285.2 377.3,284 376.9,285 376.5,287.6 376.1,283.3 375.7,284.4 375.3,284.1 374.9,283.6 374.5,281.5 374.1,282.5 373.7,283.7 373.3,282.4 372.9,285 372.5,282 372.1,281.9 371.7,284.1 371.3,285.3 370.9,283.3 370.5,282.5 370.1,285.4 369.7,284.8 369.3,286 368.9,286.7 368.5,288 368.1,291.3 367.7,288 367.3,285.9 366.9,286.3 366.5,290.2 366.1,285.6 365.7,285.7 365.3,286.6 364.9,283.8 364.5,284.7 364.1,281.4 363.7,283.7 363.3,284.9 362.9,281.9 362.5,282.3 362.1,283.1 361.7,282.6 361.3,282 360.9,282.2 360.5,285.1 360.1,281.8 359.7,281.6 359.3,284.5 358.9,280.9 358.5,283.2 358.1,285.5 357.7,281.3 357.3,281 356.9,278.9 356.5,280.4 356.1,283.3 355.7,289.7 355.3,289.7 354.9,291.5 354.5,293.5 354.1,297.6 353.7,299 353.3,305.7 352.9,308.5" fill="#168a45" stroke="#168a45" stroke-width="0.5" stroke-linejoin="round"/><polygon points="352.9,251.6 353.3,248.1 353.7,241.6 354.1,237.9 354.5,231.6 354.9,234.9 355.3,233.1 355.7,229.4 356.1,229.4 356.5,229.4 356.9,233 357.3,229.4 357.7,230 358.1,231 358.5,231.6 358.9,237 359.3,236.6 359.7,242 360.1,241.3 360.5,242.4 360.9,251.8 361.3,243.4 361.7,248.9 362.1,252.1 362.5,253.3 362.9,248.5 363.3,249.7 363.7,243.4 364.1,243 364.5,236.5 364.9,242.3 365.3,239.8 365.7,240.1 366.1,243.2 366.5,252 366.9,253.7 367.3,255.1 367.7,267.5 368.1,258.8 368.5,249.1 368.9,250 369.3,247.7 369.7,244.4 370.1,247.2 370.5,252 370.9,252.9 371.3,249.6 371.7,251.6 372.1,246.9 372.5,254.3 372.9,252.5 373.3,255.9 373.7,257.9 374.1,255.7 374.5,255.7 374.9,255.9 375.3,256 375.7,255.3 376.1,254.6 376.5,254.5 376.9,250.4 377.3,254.2 377.7,251.5 378.1,250.8 378.5,252 378.9,255.7 379.3,249.1 379.7,256.1 380.1,251.2 380.5,255.6 380.9,252.3 381.3,257 381.7,257.1 382.1,251.1 382.5,255.5 382.9,255.6 383.3,259.2 383.7,258.1 384.1,259.6 384.5,256.8 384.9,258.8 385.3,258.6 385.7,253.4 386.1,252.3 386.5,254.9 386.9,256 387.3,254.7 387.7,255.1 388.1,255.9 388.5,252.7 388.9,254.4 389.3,253 389.7,253.7 390.1,252.9 390.5,250.4 390.9,250.6 391.3,256.2 391.7,254.3 392.1,253.3 392.5,251.2 392.9,256.7 393.3,256.9 393.7,250.4 394.1,242.2 394.5,251.7 394.9,269.4 395.3,289.3 395.7,296.1 396.1,300.6 396.5,301.4 396.9,303.8 397.3,305.4 397.7,307.7 398.1,308.8 398.5,310 398.9,308.9 399.3,310.8 399.7,311.5 400.1,311.3 400.5,313 400.9,313.2 401.3,313.9 401.7,314.4 402.1,314.4 402.5,315.2 402.9,315.7 403.3,315.8 403.7,314.7 404.1,315.1 404.5,316.2 404.9,316.7 405.3,316.5 405.7,316.1 406.1,316.7 406.5,316.8 406.9,317.7 407.3,315.6 407.7,317.1 408.1,318.4 408.5,317.8 408.9,318 409.3,317.7 409.7,318.5 410.1,318.3 410.5,317.8 410.9,318.8 411.3,318.5 411.7,318.8 412.1,318.6 412.5,318.8 412.9,317.7 413.3,318.7 413.7,317.6 414.1,316.8 414.5,316.5 414.9,317.1 415.3,317.6 415.7,317.9 416.1,317 416.5,317.9 416.9,317.6 417.3,317.4 417.7,318 418.1,318.7 418.5,316.7 418.9,318.2 419.3,317.6 419.7,319.5 420.1,318.6 420.5,319.4 420.9,318.9 421.3,318.8 421.7,319.8 422.1,319 422.5,317.9 422.9,318.7 423.3,318.7 423.7,319.5 424.1,318.9 424.5,318.4 424.9,319.4 425.3,320 425.7,319.3 426.1,319.7 426.5,318.6 426.9,318.8 427.3,318.9 427.7,318.9 428.1,318.9 428.5,318.9 428.9,318.4 429.3,318.7 429.7,319.3 430.1,320.1 430.5,320.2 430.9,319.7 431.3,320 431.7,320.6 432.1,319.7 432.5,320.4 432.9,320.5 433.3,318.3 433.7,320.3 434.1,319.7 434.5,319.9 434.9,320.8 435.3,319.5 435.7,320.5 436.1,319.7 436.5,321.1 436.9,320.9 437.3,320.9 437.7,320.6 438.1,321.2 438.5,320.8 438.9,320.8 439.3,321.5 439.7,321.7 440.1,320 440.5,320.8 440.9,320.7 441.3,320.4 441.7,320.9 442.1,320.5 442.5,320.7 442.9,320.3 443.3,319.9 443.7,320.4 444.1,319.7 444.5,319.4 444.9,319.7 445.3,319.2 445.7,321.3 446.1,321.1 446.5,319.9 446.9,321.7 447.3,321.8 447.7,322.3 448.1,321.3 448.5,321.8 448.9,322 449.3,322.1 449.7,321.1 450.1,321.5 450.5,321.9 450.9,320.4 451.3,320.2 451.7,320.3 452.1,320.8 452.5,320.4 452.9,319.4 453.3,319.1 453.7,320.1 454.1,318.3 454.5,319.9 454.9,319.9 455.3,319.9 455.7,320.9 456.1,321.2 456.5,320.7 456.9,320.8 457.3,321.5 457.7,320.8 458.1,321.2 458.5,319.9 458.9,321 459.3,320.8 459.7,321.3 460.1,321.3 460.5,321.5 460.9,319.2 461.3,320.8 461.7,319.6 462.1,320.5 462.5,321.1 462.9,320.8 463.3,320.6 463.7,321.1 464.1,320.5 464.5,319.7 464.9,320.2 465.3,320.2 465.7,320.7 466.1,320.2 466.5,319 466.9,321.9 467.3,321 467.7,321.2 468.1,321.3 468.5,321 468.9,320.3 469.3,321.6 469.7,321.8 470.1,320.6 470.5,321.4 470.9,321.7 471.3,320.2 471.7,321.8 472.1,321.1 472.5,320.3 472.9,320.6 473.3,319.4 473.7,320.6 474.1,319.6 474.5,318.6 474.9,319.4 475.3,318.6 475.7,318.2 476.1,319.6 476.5,319.7 476.9,319.4 477.3,319.3 477.7,320.4 478.1,319.9 478.5,319.8 478.9,320.4 479.3,319.2 479.7,321.2 480.1,321.2 480.5,319.9 480.9,321.5 481.3,320.9 481.7,320.9 482.1,320.6 482.5,319.5 482.9,320.7 483.3,319.1 483.7,319.5 484.1,319.8 484.5,318.8 484.9,318.9 485.3,319.2 485.7,320.2 486.1,320.3 486.5,320.5 486.9,319.2 487.3,318.8 487.7,319.4 488.1,318.7 488.5,318.4 488.9,319.9 489.3,319.1 489.7,319 490.1,318.8 490.5,319.4 490.9,319.8 491.3,319.5 491.7,318.8 492.1,319 492.5,318.4 492.5,324.9 492.1,324.3 491.7,324.6 491.3,325.1 490.9,326.9 490.5,324.6 490.1,324.3 489.7,326.6 489.3,324.3 488.9,324.6 488.5,324.9 488.1,324.3 487.7,325.7 487.3,326.1 486.9,324.7 486.5,325 486.1,325.1 485.7,325.8 485.3,325.1 484.9,324.8 484.5,326.3 484.1,326 483.7,325.3 483.3,325 482.9,326 482.5,326.5 482.1,327.6 481.7,326.4 481.3,325.9 480.9,325.8 480.5,325.9 480.1,325.9 479.7,325.9 479.3,327.8 478.9,327.1 478.5,326.6 478.1,325.1 477.7,325.8 477.3,327.4 476.9,325.4 476.5,325 476.1,325.4 475.7,325.5 475.3,324.9 474.9,324.8 474.5,324.8 474.1,325.1 473.7,327.7 473.3,326.3 472.9,326.5 472.5,327.1 472.1,327.9 471.7,328.8 471.3,329 470.9,326.5 470.5,326.3 470.1,327.4 469.7,327.3 469.3,326.6 468.9,327.8 468.5,326.7 468.1,325.9 467.7,326.3 467.3,326.5 466.9,326.4 466.5,327.1 466.1,326 465.7,325.9 465.3,326.2 464.9,325.5 464.5,326.5 464.1,326.6 463.7,326.8 463.3,328.5 462.9,327 462.5,326.4 462.1,327.7 461.7,326.5 461.3,325.9 460.9,327.1 460.5,326.4 460.1,326 459.7,325.7 459.3,327.9 458.9,326.4 458.5,326.7 458.1,326.2 457.7,326.2 457.3,327.1 456.9,326.1 456.5,326.1 456.1,326.9 455.7,325.8 455.3,325.7 454.9,325.7 454.5,325.5 454.1,325 453.7,325.9 453.3,324.8 452.9,324.8 452.5,325.1 452.1,326.9 451.7,327.6 451.3,325.8 450.9,327.2 450.5,326.6 450.1,328.2 449.7,327.3 449.3,327.1 448.9,327.8 448.5,327.3 448.1,327.4 447.7,328.3 447.3,326.6 446.9,326.8 446.5,326.5 446.1,325.9 445.7,327.1 445.3,325.3 444.9,325.6 444.5,324.8 444.1,326.2 443.7,327.3 443.3,325.4 442.9,326.6 442.5,326.8 442.1,325.6 441.7,326.3 441.3,326.5 440.9,327.7 440.5,327.7 440.1,326.9 439.7,326.5 439.3,326.9 438.9,327 438.5,326.6 438.1,327.2 437.7,326.6 437.3,326.2 436.9,326.9 436.5,326.7 436.1,326.7 435.7,325.2 435.3,325.8 434.9,325.4 434.5,325 434.1,326.4 433.7,326.5 433.3,325.5 432.9,325 432.5,325.5 432.1,325.9 431.7,325.1 431.3,326.1 430.9,325.2 430.5,325.6 430.1,324.6 429.7,324.6 429.3,324.9 428.9,325 428.5,325.3 428.1,324.4 427.7,324.6 427.3,325.5 426.9,326.4 426.5,325.2 426.1,324.5 425.7,324.5 425.3,324.4 424.9,326 424.5,325.7 424.1,324.8 423.7,324.4 423.3,325.9 422.9,324.1 422.5,324.3 422.1,326.5 421.7,325.7 421.3,326 420.9,324.1 420.5,325.3 420.1,325.4 419.7,324.7 419.3,324.5 418.9,324 418.5,324.3 418.1,323.9 417.7,323.2 417.3,323.6 416.9,323.1 416.5,323.9 416.1,324.6 415.7,322.4 415.3,323 414.9,322.2 414.5,322.2 414.1,323.3 413.7,323.4 413.3,322.9 412.9,323.4 412.5,323.8 412.1,323.5 411.7,325.3 411.3,324 410.9,323.6 410.5,323.9 410.1,323.8 409.7,323.1 409.3,324.2 408.9,322.7 408.5,324.1 408.1,323.7 407.7,323.5 407.3,322.4 406.9,322 406.5,324.2 406.1,321.7 405.7,321.8 405.3,321.1 404.9,321.5 404.5,321.1 404.1,320.2 403.7,320.3 403.3,320.3 402.9,321.1 402.5,321 402.1,319.6 401.7,319.2 401.3,319.9 400.9,318.1 400.5,317.9 400.1,317.2 399.7,316.8 399.3,316.3 398.9,315.4 398.5,314.9 398.1,314.5 397.7,312.3 397.3,311.5 396.9,308.6 396.5,307.6 396.1,307.2 395.7,302.9 395.3,297 394.9,280.4 394.5,266.5 394.1,262 393.7,269.4 393.3,273.6 392.9,272.7 392.5,276.5 392.1,275.6 391.7,270.9 391.3,273.6 390.9,271.9 390.5,272.7 390.1,272.6 389.7,271.9 389.3,273.8 388.9,273.8 388.5,270.5 388.1,272.4 387.7,278.2 387.3,270.7 386.9,271 386.5,274.7 386.1,272.1 385.7,276.6 385.3,273.7 384.9,275.9 384.5,276.8 384.1,278.9 383.7,277.3 383.3,276.5 382.9,273.9 382.5,276.9 382.1,275.1 381.7,273.5 381.3,280.2 380.9,276.8 380.5,274.8 380.1,275.6 379.7,276.2 379.3,275.6 378.9,278.5 378.5,273.1 378.1,274.3 377.7,272.9 377.3,268.4 376.9,270.9 376.5,276.7 376.1,275 375.7,271.4 375.3,277.1 374.9,273.9 374.5,274.5 374.1,274.3 373.7,278.3 373.3,273 372.9,273.7 372.5,272.9 372.1,269.6 371.7,270.5 371.3,269.2 370.9,268.6 370.5,269 370.1,271.5 369.7,265.1 369.3,264.8 368.9,267.4 368.5,270.2 368.1,278.5 367.7,284.1 367.3,278.6 366.9,276.1 366.5,268.3 366.1,267.2 365.7,260.7 365.3,259.9 364.9,263.9 364.5,259.7 364.1,258.9 363.7,265.6 363.3,268.5 362.9,267 362.5,272.6 362.1,271.7 361.7,269.5 361.3,267.5 360.9,269.3 360.5,264.1 360.1,265.4 359.7,259.5 359.3,258.6 358.9,262.9 358.5,257.9 358.1,260.5 357.7,253.5 357.3,253.1 356.9,257.6 356.5,255 356.1,256.9 355.7,255.6 355.3,255.3 354.9,258 354.5,254.9 354.1,260.4 353.7,260.5 353.3,270.6 352.9,274.3" fill="#3951a3" stroke="#3951a3" stroke-width="0.5" stroke-linejoin="round"/><path d="M367.2 262 L367.6 293.3 L368.1 266 M394 258 L394.4 232.9 L394.9 262" fill="none" stroke="#3951a3" stroke-width="1" stroke-linejoin="round"/><path d="M407.3 270 L407.9 260 L408.5 272" fill="none" stroke="#168a45" stroke-width="1" stroke-linejoin="round"/>
<g fill="none" stroke="#8e8e8e" stroke-width="1.1"><rect x="352.4" y="205.6" width="140.4" height="140.8"/><path d="M344.9 205.6H352.4 M344.9 346.4H352.4 M352.4 346.4V353.9 M492.8 346.4V353.9"/></g>
<text x="338.5" y="211.4" text-anchor="end" font-size="16.4">1.5</text>
<text x="338.5" y="351.4" text-anchor="end" font-size="16.4">0</text>
<text x="352.1" y="372.6" text-anchor="middle" font-size="16.4">0</text>
<text x="492.3" y="372.6" text-anchor="middle" font-size="16.4">5</text>
<text transform="translate(307.1 276.2) rotate(-90)" text-anchor="middle" font-size="16.4">RMSD (nm)</text>
<text x="429.7" y="399.4" text-anchor="middle" font-size="16.4">Time (<tspan font-family="'Liberation Serif', 'DejaVu Serif', serif">μ</tspan>s)</text>
<text x="418.1" y="224.2" text-anchor="middle" font-size="16.4">86</text>
</g>
<g>
<polyline points="115.4,620.6 116.2,621 117,620.4 117.8,620.5 118.6,621.2 119.4,620.9 120.2,620.5 121,620.8 121.8,620.6 122.6,620.6 123.4,620.7 124.2,620.2 125,620.2 125.8,620.6 126.6,621.4 127.4,621 128.2,620.5 129,619.8 129.8,621.2 130.6,620.5 131.4,620.7 132.2,620.5 133,620.7 133.8,620.4 134.6,621 135.4,620.3 136.2,620.5 137,620.8 137.8,620.9 138.6,621.1 139.4,621.1 140.2,620.7 141,620.2 141.8,620.6 142.6,620.5 143.4,620.7 144.2,620.6 145,620.6 145.8,620.6 146.6,621 147.4,620.6 148.2,621.1 149,620.7 149.8,620.7 150.6,620.7 151.4,620.7 152.2,620.3 153,620.7 153.8,620.4 154.6,620.5 155.4,620.6 156.2,620.9 157,620.5 157.8,620.5 158.6,620.2 159.4,620.8 160.2,620.6 161,620.6 161.8,620.3 162.6,620.9 163.4,620.8 164.2,620.6 165,620.2 165.8,620.6 166.6,620.4 167.4,620.1 168.2,620.2 169,620.8 169.8,620.4 170.6,620.1 171.4,620.6 172.2,620.8 173,620.9 173.8,620.2 174.6,620.5 175.4,620.8 176.2,620.5 177,620.7 177.8,620.2 178.6,620.2 179.4,621.2 180.2,620.7 181,620.6 181.8,620.6 182.6,620.4 183.4,620.4 184.2,620.1 185,620.5 185.8,620.6 186.6,620.7 187.4,620.5 188.2,620.6 189,620.8 189.8,620.8 190.6,621.1 191.4,620.8 192.2,620.4 193,620.5 193.8,620.2 194.6,620.4 195.4,620.5 196.2,621 197,620.6 197.8,620.7 198.6,620.3 199.4,620.6 200.2,620.1 201,620.7 201.8,621.1 202.6,620.8 203.4,620.5 204.2,620.4 205,620.7 205.8,620.7 206.6,621.3 207.4,620.1 208.2,620.3 209,620.6 209.8,620.4 210.6,621 211.4,620.4 212.2,620.5 213,620.2 213.8,620.9 214.6,620.9 215.4,620.7 216.2,620.7 217,621 217.8,620.4 218.6,620.4 219.4,621.1 220.2,620.9 221,620.4 221.8,620.9 222.6,620.3 223.4,620.3 224.2,620.5 225,620.8 225.8,620.3 226.6,620 227.4,621.2 228.2,620.8 229,620.6 229.8,620.4 230.6,620.6 231.4,620.7 232.2,620.1 233,620.5 233.8,620.7 234.6,620.3 235.4,620.9 236.2,620.6 237,620.5 237.8,620.8 238.6,620.3 239.4,620.2 240.2,621.3 241,621 241.8,620.5 242.6,620.2 243.4,620.7 244.2,620.3 245,620.2 245.8,620.6 246.6,619.8 247.4,620.5 248.2,620.4 249,621.1 249.8,620.4 250.6,620.9 251.4,620.5 252.2,620.5 253,620.5 253.8,620.7 254.6,620.9 255.4,620.6 256.2,620.7" fill="none" stroke="#e6212a" stroke-width="1.3" stroke-linejoin="round" stroke-linecap="round"/><polyline points="115.4,620.5 116.2,620.5 117,619.9 117.8,620.4 118.6,620.7 119.4,620 120.2,620.6 121,620.1 121.8,620.1 122.6,620.6 123.4,619.9 124.2,620.2 125,620.8 125.8,620.2 126.6,619.8 127.4,620 128.2,620.4 129,620.7 129.8,619.9 130.6,620.4 131.4,620.4 132.2,620.8 133,620.5 133.8,620.3 134.6,620.3 135.4,620.6 136.2,620.4 137,620.3 137.8,620.2 138.6,620.6 139.4,620.3 140.2,620.1 141,620.6 141.8,620.5 142.6,620.1 143.4,620.6 144.2,620.7 145,620.5 145.8,620.8 146.6,619.9 147.4,621 148.2,620.4 149,620.6 149.8,620.2 150.6,620 151.4,620.6 152.2,620.4 153,620.6 153.8,620 154.6,620.6 155.4,620.6 156.2,620.2 157,620.3 157.8,620.7 158.6,620.4 159.4,620.2 160.2,620.7 161,620.2 161.8,619.9 162.6,621 163.4,620.1" fill="none" stroke="#168a45" stroke-width="1.0" stroke-linejoin="round" stroke-linecap="round"/><polyline points="163.7,618.8 164.1,616.3 164.5,614.5 164.9,599.2 165.3,607.1 165.7,599.3 166.1,598.7 166.5,591 166.9,593.2 167.3,574.4 167.7,589.3 168.1,592 168.5,589.7 168.9,608.9 169.3,611.5 169.7,581.6 170.1,583.4 170.5,560.6 170.9,554.4 171.3,549.5 171.7,548.3 172.1,549.4 172.5,547.1 172.9,537.6 173.3,553.4 173.7,552.5 174.1,559.8 174.5,573.8 174.9,590.8 175.3,597.7 175.7,597.6 176.1,605.3 176.5,606.2 176.9,594 177.3,580.7 177.7,555.3 178.1,545.6 178.5,542.1 178.9,549.6 179.3,534 179.7,534 180.1,559.9 180.5,579.1 180.9,585.1 181.3,577.7 181.7,553.3 182.1,539.4 182.5,534 182.9,545.9 183.3,549.9 183.7,545 184.1,556.3 184.5,559.8 184.9,573.8 185.3,575.2 185.7,587.5 186.1,573.8 186.5,569.8 186.9,556.6 187.3,551.8 187.7,556.4 188.1,551.3 188.5,551.9 188.9,546.9 189.3,559.7 189.7,557.9 190.1,577.2 190.5,589.3 190.9,586.6 191.3,609.4 191.7,620 192.1,617.4 192.5,611.7 192.9,601.8 193.3,608.1 193.7,617.9 194.1,605.7 194.5,603.2 194.9,588.9 195.3,574.8 195.7,571.9 196.1,550.9 196.5,546.6 196.9,545.6 197.3,550.3 197.7,561.7 198.1,562.9 198.5,574.6 198.9,566.7 199.3,545.9 199.7,543.6 200.1,550.8 200.5,569.1 200.9,575.4 201.3,584 201.7,590.6 202.1,601.2 202.5,610.7 202.9,607.6 203.3,616.2 203.3,618.8" fill="none" stroke="#e6212a" stroke-width="1.6" stroke-linejoin="round" stroke-linecap="round"/><polyline points="163.7,618.8 164,620.5 164.4,607.1 164.7,605 165,620 165.4,608.5 165.7,595.4 166,600.4 166.3,590.1 166.7,588 167,587.1 167.3,570.7 167.7,566.6 168,580.3 168.3,609.6 168.7,607.8 169,602.5 169.3,588.7 169.6,611.7 170,580.9 170.3,573.6 170.6,558.4 171,558.1 171.3,549.4 171.6,562.1 172,541.6 172.3,544.8 172.6,551 172.9,557 173.3,568.8 173.6,573.1 173.9,569.1 174.3,561.6 174.6,577.1 174.9,583.7 175.3,593.8 175.6,599.5 175.9,606.6 176.2,613.4 176.6,618.7 176.9,593.1 177.2,589.6 177.6,565.4 177.9,548.1 178.2,543.5 178.6,543 178.9,534 179.2,542.2 179.5,537.7 179.9,552 180.2,565.8 180.5,584.3 180.9,583.3 181.2,574.8 181.5,557.3 181.9,562.2 182.2,545.9 182.5,536.3 182.8,534 183.2,550.5 183.5,552.9 183.8,552.7 184.2,547.1 184.5,563.6 184.8,567.3 185.2,567.5 185.5,577 185.8,590.2 186.1,572.1 186.5,558.7 186.8,562.6 187.1,563.4 187.5,564.9 187.8,545 188.1,550.4 188.5,557 188.8,548.8 189.1,553.5 189.4,547.6 189.8,554.9 190.1,587.8 190.4,582.1 190.8,585.7 191.1,592.7 191.4,595 191.8,602.1 192.1,600.3 192.4,616.7 192.7,614 193.1,613.8 193.4,606.9 193.7,606.1 194.1,606.5 194.4,605.1 194.7,608.7 195.1,591.9 195.4,573.4 195.7,567.1 196,551.2 196.4,546.9 196.7,539.7 197,554.7 197.4,550.3 197.7,561.4 198,557.5 198.4,569.7 198.7,555.8 199,565.5 199.3,568.8 199.7,556.8 200,551.4 200.3,555.6 200.7,569.4 201,577.5 201.3,600.9 201.7,575.7 202,587.2 202.3,600.9 202.6,602.8 203,620.5 203.3,617.5 203.3,618.8" fill="none" stroke="#e6212a" stroke-width="1.3" stroke-linejoin="round" stroke-linecap="round"/><polyline points="120.2,618.8 120.6,607.2 121,583.4 121.4,584.3 121.8,582.3 122.2,581.4 122.6,598.8 123,578.5 123.4,547.5 123.8,544.9 124.2,561.9 124.6,583.1 125,604.5 125.4,608 125.8,608 126.2,619.2 126.6,607.1 127,596.8 127.4,576.4 127.8,558.6 128.2,565 128.6,545.7 129,545.1 129.4,535.3 129.8,531.6 130.2,525.7 130.6,526.4 131,523.5 131.4,510.6 131.8,519.7 132.2,564.4 132.6,561.3 133,569.4 133.4,564.7 133.8,574.4 134.2,579.7 134.6,550.5 135,547.8 135.4,546.8 135.8,554.6 136.2,530.8 136.6,511.4 137,502.2 137.4,512.1 137.8,510.4 138.2,533.6 138.6,563.5 139,535.2 139.4,518.9 139.8,502.5 140.2,520.3 140.6,535 141,533.9 141.4,542.8 141.8,565.9 142.2,588.5 142.6,591.7 143,589 143.4,612.1 143.8,614.6 144.2,595.7 144.6,584.7 145,570.9 145.4,555.2 145.8,544.9 146.2,530.1 146.6,522.5 147,509.1 147.4,531.8 147.8,542.4 148.2,549.2 148.6,562.3 149,565.7 149.4,564.4 149.8,577.2 150.2,557.7 150.6,543.3 151,512.9 151.4,510 151.8,531 152.2,538.2 152.6,547.7 153,542.4 153.4,538.6 153.8,544 154.2,558.9 154.6,603.6 155,609.7 155.4,601.5 155.8,568.3 156.2,555.1 156.6,543.6 157,550.4 157.4,545 157.8,556.8 158.2,547.6 158.6,544.5 159,533.9 159.4,533 159.8,560.9 160.2,568.6 160.6,591.6 161,618 161.4,606.2 161.8,590.9 162.2,601.4 162.6,599.5 163,619" fill="none" stroke="#168a45" stroke-width="1.6" stroke-linejoin="round" stroke-linecap="round"/><polyline points="120.2,618.8 120.5,606.2 120.9,575.1 121.2,573.8 121.5,591.5 121.8,577.4 122.2,601.2 122.5,579.2 122.8,568.9 123.2,577.1 123.5,545.3 123.8,548.3 124.2,576.7 124.5,571.9 124.8,570 125.1,588.3 125.5,605.7 125.8,620.5 126.1,608.1 126.5,613 126.8,603 127.1,602 127.5,584.1 127.8,566.7 128.1,553.7 128.4,556.2 128.8,547.2 129.1,539.6 129.4,533 129.8,541.1 130.1,526.3 130.4,516.8 130.8,524.5 131.1,514.9 131.4,501 131.7,526.6 132.1,545.5 132.4,553.3 132.7,567.9 133.1,549.7 133.4,586.1 133.7,575 134.1,585.6 134.4,563.4 134.7,549.3 135,557.7 135.4,545.1 135.7,541.5 136,518.5 136.4,530.6 136.7,522.4 137,507 137.4,503.5 137.7,519.5 138,528 138.3,537.9 138.7,553.4 139,528 139.3,509.3 139.7,531.5 140,501 140.3,525.1 140.7,534.4 141,530.7 141.3,559.4 141.6,563.5 142,572 142.3,573.1 142.6,595.8 143,607.8 143.3,596.7 143.6,620.5 144,609.1 144.3,572.3 144.6,559.5 144.9,570.7 145.3,558.1 145.6,554.3 145.9,542 146.3,548.4 146.6,523.8 146.9,520.4 147.3,532 147.6,530.1 147.9,534.8 148.2,547.5 148.6,557 148.9,562.4 149.2,560.2 149.6,571.6 149.9,572.3 150.2,554.9 150.6,552.4 150.9,527.5 151.2,513.4 151.5,520.7 151.9,514.9 152.2,539 152.5,549 152.9,553.7 153.2,562.6 153.5,543.2 153.9,534.2 154.2,561.5 154.5,588.7 154.8,620.5 155.2,612.8 155.5,586.9 155.8,566.5 156.2,559.6 156.5,524.9 156.8,553.8 157.2,550.3 157.5,551.1 157.8,564.6 158.1,557.7 158.5,535.1 158.8,559.1 159.1,520.9 159.5,528.4 159.8,567.4 160.1,578 160.5,584.4 160.8,598.9 161.1,613.7 161.4,614.3 161.8,586.1 162.1,602.3 162.4,594.2 162.8,620.5 163,619" fill="none" stroke="#168a45" stroke-width="1.3" stroke-linejoin="round" stroke-linecap="round"/><polyline points="115.4,619.7 116.2,620 117,619.7 117.8,619.7 118.6,620.4 119.4,620.2 120.2,619.8 121,619.5 121.8,620.3 122.6,620.3 123.4,620 124.2,619.9 125,620.3 125.8,620.7 126.6,620.4 127.4,620 128.2,620.1 129,619.7 129.8,619.3 130.6,620.1 131.4,620 132.2,620.6 133,620 133.8,620.4 134.6,620.3 135.4,619.7 136.2,619.9 137,619.9 137.8,619.6 138.6,620.2 139.4,620 140.2,619.8 141,620.1 141.8,620 142.6,620.1 143.4,619.9 144.2,619.9 145,620 145.8,620.1 146.6,620 147.4,620.4 148.2,620.1 149,620 149.8,619.8 150.6,619.4 151.4,619.8 152.2,620 153,620.1 153.8,620.2 154.6,619.9 155.4,620.4 156.2,619.4 157,620.1 157.8,619.6 158.6,620.4 159.4,620.2 160.2,619.7 161,619.8 161.8,620.3 162.6,620.1 163.4,620 164.2,619.8 165,620.1 165.8,619.9 166.6,619.9 167.4,619.7 168.2,620 169,619.9 169.8,619.8 170.6,619.8 171.4,619.9 172.2,619.7 173,620.3 173.8,620.1 174.6,619.8 175.4,620.5 176.2,619.6 177,620.2 177.8,620.1 178.6,619.9 179.4,620.3 180.2,620.2 181,620.1 181.8,620.6 182.6,620.2 183.4,620.2 184.2,620 185,619.8 185.8,620.2 186.6,619.7 187.4,619.7 188.2,620 189,619.4 189.8,620 190.6,620 191.4,620.1 192.2,619.7 193,619.8 193.8,619.6 194.6,619.6 195.4,620.2 196.2,620 197,619.7 197.8,619.6 198.6,619.9 199.4,619.8 200.2,619.9 201,620 201.8,620.3 202.6,620.1 203.4,620.3 204.2,620.4 205,620.1 205.8,619.6 206.6,619.5 207.4,620 208.2,620.5 209,620.3 209.8,620.3 210.6,620 211.4,619.9 212.2,620 213,619.7 213.8,620.1 214.6,620.1 215.4,619.7 216.2,620.4 217,619.8 217.8,620.2 218.6,620.7 219.4,620 220.2,620 221,620.2 221.8,619.7 222.6,620.3 223.4,620.1 224.2,620 225,620 225.8,619.9 226.6,619.9 227.4,620.1 228.2,619.9 229,620.1 229.8,620.1 230.6,619.8 231.4,620.2 232.2,619.9 233,620.3" fill="none" stroke="#3951a3" stroke-width="1.5" stroke-linejoin="round" stroke-linecap="round"/><polyline points="226.5,619.5 226.9,617.2 227.3,618.9 227.7,617.6 228.1,615.8 228.5,620.2 228.9,619.3 229.3,619.9 229.7,620.5 230.1,619.4 230.5,617.8 230.9,618.1 231.3,620.2 231.7,609.1 232.1,611 232.5,605.4 232.9,590 233.3,595.1 233.7,605 234.1,604.7 234.5,615.3 234.9,614.2 235.3,592.6 235.7,584.6 236.1,585.9 236.5,573.2 236.9,556.7 237.3,557.8 237.7,561.9 238.1,549.5 238.5,567.9 238.9,574 239.3,574.7 239.7,575.3 240.1,563.6 240.5,572.8 240.9,577.9 241.3,574.5 241.7,590.7 242.1,599.1 242.5,600.9 242.9,613 243.3,614.1 243.7,619.6 244.1,618.4 244.5,618.7 244.9,618 245.3,610.3 245.7,587.6 246.1,587 246.5,580.6 246.9,580.5 247.3,596.3 247.7,588.5 248.1,589.2 248.5,587.7 248.9,574.2 249.3,579.6 249.7,568.3 250.1,576.3 250.5,558.4 250.9,557.9 251.3,580.2 251.7,574.4 252.1,595.7 252.5,593 252.9,608 253.3,605.2 253.7,584 254.1,563.7 254.5,553.9 254.9,568.8 255.3,574.6 255.7,589.3 256.1,597.5 256.2,600" fill="none" stroke="#3951a3" stroke-width="1.6" stroke-linejoin="round" stroke-linecap="round"/><polyline points="226.5,619.5 226.8,618.7 227.2,614.1 227.5,612.5 227.8,620.5 228.2,620 228.5,618.6 228.8,617.8 229.1,620.4 229.5,620.4 229.8,619.2 230.1,618.5 230.5,620.5 230.8,620.5 231.1,620.5 231.5,618.8 231.8,617.1 232.1,601.5 232.4,585.4 232.8,600.8 233.1,592.5 233.4,612.6 233.8,603.9 234.1,619.5 234.4,620.5 234.8,606.9 235.1,603.7 235.4,595.8 235.7,578.7 236.1,584.7 236.4,574.9 236.7,562 237.1,563.8 237.4,555.7 237.7,554 238.1,553.8 238.4,559.6 238.7,567 239,574.9 239.4,574.8 239.7,581.9 240,571.2 240.4,564.6 240.7,557.6 241,555.2 241.4,574.9 241.7,592.7 242,598.9 242.3,608.2 242.7,604.6 243,620.5 243.3,610.6 243.7,619.6 244,616.4 244.3,620.5 244.7,620.1 245,606.4 245.3,598.8 245.6,602.2 246,587.3 246.3,575.9 246.6,571.6 247,585.4 247.3,583.8 247.6,588.7 248,588.4 248.3,590.5 248.6,582.1 248.9,572.4 249.3,565.6 249.6,565.3 249.9,559.1 250.3,574.2 250.6,568.4 250.9,560 251.3,583.1 251.6,568.6 251.9,589.7 252.2,594 252.6,595.7 252.9,614.8 253.2,605 253.6,591.3 253.9,592.5 254.2,570.6 254.6,559.3 254.9,560.7 255.2,566 255.5,585.5 255.9,583 256.2,600" fill="none" stroke="#3951a3" stroke-width="1.3" stroke-linejoin="round" stroke-linecap="round"/>
<g fill="none" stroke="#8e8e8e" stroke-width="1.1"><rect x="115.4" y="486.1" width="140.8" height="140.8"/><path d="M107.9 486.1H115.4 M107.9 626.9H115.4 M115.4 626.9V634.4 M256.2 626.9V634.4"/></g>
<text x="102.1" y="491.9" text-anchor="end" font-size="16.4">6</text>
<text x="102.1" y="631.9" text-anchor="end" font-size="16.4">0</text>
<text x="115.1" y="653.1" text-anchor="middle" font-size="16.4">0</text>
<text x="255.7" y="653.1" text-anchor="middle" font-size="16.4">3.5</text>
<text transform="translate(74.5 550.6) rotate(-90)" text-anchor="middle" font-size="16.4">Distance (nm)</text>
<text x="185.6" y="679.9" text-anchor="middle" font-size="16.4">Time (<tspan font-family="'Liberation Serif', 'DejaVu Serif', serif">μ</tspan>s)</text>
<text x="186.2" y="504.7" text-anchor="middle" font-size="16.4">1,465</text>
</g>
<g>
<polygon points="352.9,591.4 353.3,582.5 353.7,575.9 354.1,569.6 354.5,562.8 354.9,562 355.3,555 355.7,557.1 356.1,553.6 356.5,550.5 356.9,553.6 357.3,554.2 357.7,553.1 358.1,554 358.5,556.6 358.9,555.3 359.3,555.7 359.7,552.1 360.1,551.2 360.5,553.1 360.9,553.3 361.3,555.8 361.7,552.6 362.1,551.7 362.5,549.7 362.9,551.3 363.3,550.5 363.7,551.4 364.1,550.8 364.5,553.5 364.9,552.8 365.3,548.3 365.7,552.9 366.1,552.7 366.5,552.7 366.9,552.8 367.3,551.7 367.7,553.9 368.1,552.3 368.5,553.4 368.9,552.2 369.3,549.4 369.7,548.9 370.1,549.4 370.5,548.8 370.9,548.9 371.3,552 371.7,552.1 372.1,549.3 372.5,551.9 372.9,548.1 373.3,551.1 373.7,552.4 374.1,554.3 374.5,553.8 374.9,549.4 375.3,550.8 375.7,553.3 376.1,553.5 376.5,553.5 376.9,552.8 377.3,553 377.7,546.2 378.1,550 378.5,549.5 378.9,551.9 379.3,549.6 379.7,550.8 380.1,547.4 380.5,551 380.9,547.9 381.3,547.6 381.7,543.8 382.1,545.5 382.5,542.5 382.9,536.2 383.3,535.7 383.7,533.7 384.1,537 384.5,535.6 384.9,536.6 385.3,535 385.7,534.3 386.1,536.9 386.5,534 386.9,531.8 387.3,534.9 387.7,534.2 388.1,535.3 388.5,534.3 388.9,536 389.3,534.6 389.7,535.3 390.1,536 390.5,537.5 390.9,537.2 391.3,535.3 391.7,537.3 392.1,535.8 392.5,538.2 392.9,533.6 393.3,537.6 393.7,539.1 394.1,537 394.5,539.3 394.9,537.7 395.3,536.8 395.7,538 396.1,537.5 396.5,535.7 396.9,535.1 397.3,538.2 397.7,534.2 398.1,534 398.5,536.8 398.9,536.7 399.3,536.2 399.7,536.2 400.1,538.2 400.5,537.2 400.9,537.4 401.3,537.8 401.7,534.6 402.1,536.2 402.5,536.9 402.9,538.4 403.3,534 403.7,536.1 404.1,537.8 404.5,534.1 404.9,537.2 405.3,537.8 405.7,533.9 406.1,537.6 406.5,534.5 406.9,535.8 407.3,535.2 407.7,535.4 408.1,534.8 408.5,536.4 408.9,538.9 409.3,537.1 409.7,536 410.1,537.6 410.5,537.1 410.9,537 411.3,533.5 411.7,537.9 412.1,538.8 412.5,538 412.9,538.6 413.3,538.6 413.7,535.7 414.1,537.3 414.5,535.6 414.9,538.1 415.3,538.2 415.7,532.6 416.1,537.6 416.5,535.7 416.9,536.2 417.3,534.1 417.7,537.2 418.1,534.6 418.5,535 418.9,537.7 419.3,536.2 419.7,536.8 420.1,537.9 420.5,536.8 420.9,537.7 421.3,538.7 421.7,537.2 422.1,537.5 422.5,537.5 422.9,537.6 423.3,536.5 423.7,538.7 424.1,536.7 424.5,539.6 424.9,540.3 425.3,539.3 425.7,536.8 426.1,540.5 426.5,535.6 426.9,538.3 427.3,538.4 427.7,536.1 428.1,539.9 428.5,538.1 428.9,538.3 429.3,536 429.7,536.5 430.1,533.8 430.5,535.2 430.9,537.9 431.3,536.4 431.7,536.5 432.1,536.9 432.5,537.8 432.9,534.5 433.3,539 433.7,537.5 434.1,537.4 434.5,533.8 434.9,537.8 435.3,537.4 435.7,536.8 436.1,536.7 436.5,535.1 436.9,536.8 437.3,536.2 437.7,537.1 438.1,535.6 438.5,536 438.9,538.2 439.3,536.9 439.7,536.2 440.1,538.4 440.5,538.6 440.9,535.8 441.3,537 441.7,537.1 442.1,535.8 442.5,535.1 442.9,537.5 443.3,537.6 443.7,538.2 444.1,533.6 444.5,534.9 444.9,537.4 445.3,537.7 445.7,533.9 446.1,537 446.5,538.7 446.9,536.8 447.3,539.4 447.7,537.5 448.1,534.8 448.5,539.2 448.9,539.3 449.3,538.7 449.7,537.8 450.1,539.4 450.5,535.9 450.9,537.5 451.3,538.8 451.7,538.8 452.1,536 452.5,537.4 452.9,538.7 453.3,536.3 453.7,537.8 454.1,537.8 454.5,537.3 454.9,536.5 455.3,537.9 455.7,538.6 456.1,536.9 456.5,535.8 456.9,535.4 457.3,538.2 457.7,537.8 458.1,536.9 458.5,532.7 458.9,537.5 459.3,536.8 459.7,537.2 460.1,535.1 460.5,535.6 460.9,536.7 461.3,538.1 461.7,537.4 462.1,538.4 462.5,538.4 462.9,536.3 463.3,539 463.7,537.7 464.1,539.1 464.5,540 464.9,538.9 465.3,539.8 465.7,538.6 466.1,540.2 466.5,539.1 466.9,535.3 467.3,539 467.7,538.7 468.1,537.1 468.5,535.8 468.9,535.4 469.3,533.8 469.7,537 470.1,536.2 470.5,537.1 470.9,536.5 471.3,535.8 471.7,534.1 472.1,537.7 472.5,536.4 472.9,534.8 473.3,537.9 473.7,538 474.1,537.5 474.5,536 474.9,536.5 475.3,533.8 475.7,535.2 476.1,536.1 476.5,538 476.9,538.2 477.3,537.2 477.7,536.7 478.1,537.5 478.5,535.9 478.9,536.6 479.3,536.6 479.7,533.4 480.1,536.3 480.5,537.4 480.9,534.3 481.3,537 481.7,537.4 482.1,538.3 482.5,535.4 482.9,538.6 483.3,537.7 483.7,533.9 484.1,534.8 484.5,539 484.9,539 485.3,538.2 485.7,534.9 486.1,533.9 486.5,538.6 486.9,538.7 487.3,537.8 487.7,536 488.1,534.4 488.5,536.3 488.9,535 489.3,538 489.7,537.1 490.1,535.7 490.5,537.5 490.9,534.3 491.3,537.5 491.7,536.6 492.1,534.2 492.5,535.7 492.5,549.7 492.1,545.7 491.7,549.1 491.3,549.4 490.9,548.5 490.5,547.7 490.1,548.1 489.7,548.9 489.3,549.1 488.9,548 488.5,549.6 488.1,551.9 487.7,549.8 487.3,549 486.9,550.7 486.5,551.5 486.1,553.3 485.7,548.6 485.3,548.6 484.9,548.8 484.5,549.1 484.1,549.9 483.7,550.8 483.3,547.8 482.9,547.9 482.5,548.8 482.1,547.6 481.7,549 481.3,549.3 480.9,550.2 480.5,546.8 480.1,550.3 479.7,547 479.3,548.1 478.9,549.4 478.5,547.4 478.1,552.4 477.7,550 477.3,549.9 476.9,549.9 476.5,549.7 476.1,547.7 475.7,547.9 475.3,550.6 474.9,547.9 474.5,549.9 474.1,549.1 473.7,548 473.3,551.4 472.9,548.6 472.5,548 472.1,547.3 471.7,551.8 471.3,547.6 470.9,547.1 470.5,548 470.1,547.5 469.7,547.8 469.3,549.4 468.9,549.4 468.5,548.2 468.1,548.1 467.7,548.6 467.3,548.9 466.9,551.1 466.5,550.2 466.1,550.2 465.7,549.2 465.3,551 464.9,550.8 464.5,551.5 464.1,550.5 463.7,550.7 463.3,549.4 462.9,549 462.5,553.4 462.1,549.9 461.7,552.6 461.3,548.9 460.9,551.1 460.5,547.5 460.1,547.1 459.7,547.4 459.3,547 458.9,549.7 458.5,552.1 458.1,547.7 457.7,547.6 457.3,549.9 456.9,547.8 456.5,548.5 456.1,548.7 455.7,548.2 455.3,548.6 454.9,547.6 454.5,548.3 454.1,549.7 453.7,548.4 453.3,548.2 452.9,549.7 452.5,548.3 452.1,551.6 451.7,551.7 451.3,549.8 450.9,548.7 450.5,548.4 450.1,550.1 449.7,552 449.3,549.7 448.9,550.4 448.5,552.2 448.1,550.4 447.7,549 447.3,551.6 446.9,549.2 446.5,549.2 446.1,551 445.7,548.3 445.3,550 444.9,550.4 444.5,549.7 444.1,549.3 443.7,551.8 443.3,549 442.9,550.2 442.5,550.5 442.1,548.3 441.7,548.4 441.3,547.5 440.9,551 440.5,549.5 440.1,547.6 439.7,552.9 439.3,549.5 438.9,547.8 438.5,547.5 438.1,549.8 437.7,549 437.3,548.1 436.9,547.1 436.5,548.8 436.1,551 435.7,548.5 435.3,548 434.9,551.4 434.5,549.2 434.1,551.2 433.7,548.5 433.3,549.1 432.9,548.8 432.5,550.3 432.1,547.3 431.7,547.7 431.3,550.8 430.9,548.4 430.5,548.4 430.1,549 429.7,548.5 429.3,551.5 428.9,548.3 428.5,549.8 428.1,550.6 427.7,548.4 427.3,550.3 426.9,552.8 426.5,551.2 426.1,549.6 425.7,549.8 425.3,555.1 424.9,549.1 424.5,553.1 424.1,550.8 423.7,549.3 423.3,550.5 422.9,549.9 422.5,549.2 422.1,550.4 421.7,548.4 421.3,548.1 420.9,548.2 420.5,549.1 420.1,551 419.7,550.5 419.3,549.6 418.9,550.6 418.5,548.3 418.1,546.8 417.7,548.7 417.3,549.9 416.9,548.1 416.5,546.6 416.1,546.5 415.7,548.2 415.3,549.6 414.9,549.4 414.5,550.7 414.1,548.1 413.7,550.5 413.3,553.8 412.9,548.8 412.5,553.4 412.1,552.7 411.7,550.5 411.3,551.6 410.9,549.2 410.5,549.2 410.1,547.7 409.7,547 409.3,550.1 408.9,548.8 408.5,551.8 408.1,548.2 407.7,547.2 407.3,546.7 406.9,548.7 406.5,547.5 406.1,548.6 405.7,547.8 405.3,548.4 404.9,547.8 404.5,550.3 404.1,552.9 403.7,548.6 403.3,547.8 402.9,552.8 402.5,547.2 402.1,547.2 401.7,548.6 401.3,550.5 400.9,548 400.5,547.6 400.1,550.3 399.7,547.5 399.3,549.8 398.9,549.2 398.5,548 398.1,551.8 397.7,547.5 397.3,549.1 396.9,549.2 396.5,550.7 396.1,550.3 395.7,549.5 395.3,548.4 394.9,549.2 394.5,551.4 394.1,549.1 393.7,548.5 393.3,549.2 392.9,547.8 392.5,548.7 392.1,548 391.7,548.8 391.3,551.9 390.9,549.4 390.5,546.7 390.1,546.2 389.7,546.7 389.3,545.7 388.9,545.8 388.5,547.6 388.1,548.1 387.7,548.8 387.3,547.7 386.9,547.4 386.5,547.5 386.1,547.3 385.7,548.5 385.3,549.1 384.9,547.8 384.5,549.2 384.1,548.8 383.7,546.9 383.3,550.5 382.9,549.1 382.5,557.9 382.1,562.2 381.7,563.3 381.3,563.7 380.9,562.2 380.5,565.1 380.1,565.9 379.7,563.8 379.3,568.2 378.9,564.6 378.5,565 378.1,568.9 377.7,569.7 377.3,565.7 376.9,569.5 376.5,567.6 376.1,568 375.7,568.4 375.3,570.8 374.9,567.5 374.5,568.4 374.1,570.2 373.7,568.6 373.3,566.6 372.9,567.8 372.5,568.1 372.1,570.6 371.7,564.6 371.3,564.8 370.9,566.1 370.5,563 370.1,569 369.7,564.3 369.3,565.4 368.9,570.1 368.5,566.4 368.1,569.3 367.7,566.3 367.3,569.7 366.9,569.9 366.5,574.1 366.1,570.6 365.7,570.1 365.3,567.2 364.9,567.7 364.5,566.6 364.1,566.5 363.7,567.5 363.3,568.4 362.9,567.7 362.5,570.5 362.1,568.3 361.7,568.8 361.3,571.7 360.9,568.9 360.5,574.2 360.1,571.4 359.7,573.7 359.3,573.9 358.9,571 358.5,569.1 358.1,568.1 357.7,568.6 357.3,572.2 356.9,572.7 356.5,575.7 356.1,572.6 355.7,572.7 355.3,572.7 354.9,573.9 354.5,576.8 354.1,581.9 353.7,585.3 353.3,594.3 352.9,601.6" fill="#e6212a" stroke="#e6212a" stroke-width="0.5" stroke-linejoin="round"/><polygon points="352.9,592.8 353.3,589.8 353.7,591.1 354.1,590.8 354.5,592.1 354.9,588.2 355.3,592.3 355.7,588.3 356.1,589.3 356.5,591.5 356.9,592.5 357.3,589.8 357.7,589.7 358.1,590.3 358.5,589.8 358.9,591.8 359.3,593.5 359.7,590.4 360.1,586 360.5,578.7 360.9,582 361.3,591.7 361.7,593.1 362.1,592.7 362.5,591.8 362.9,592.5 363.3,591.6 363.7,593.1 364.1,592.5 364.5,592 364.9,592.8 365.3,592.9 365.7,592.2 366.1,593.4 366.5,593.2 366.9,593.5 367.3,593.8 367.7,592.7 368.1,589.7 368.5,591.1 368.9,590.5 369.3,588.3 369.7,591.5 370.1,591.7 370.5,592.3 370.9,592.8 371.3,590.1 371.7,590 372.1,592.9 372.5,590.5 372.9,592.1 373.3,584.9 373.7,578.8 374.1,582.9 374.5,589.9 374.9,592.9 375.3,591.6 375.7,589.3 376.1,589.4 376.5,591.4 376.9,589.8 377.3,591.3 377.7,592 378.1,588.2 378.5,590.4 378.9,591.4 379.3,592 379.7,591 380.1,591.5 380.5,591.8 380.9,591.6 381.3,591.6 381.7,591.3 382.1,589.1 382.5,591.4 382.9,589 383.3,590.3 383.7,591.9 384.1,589.4 384.5,588 384.9,584.4 385.3,580.3 385.7,573 386.1,568.5 386.5,569 386.9,566.5 387.3,568.5 387.7,573.6 388.1,578.6 388.5,582.9 388.9,584.9 389.3,586.6 389.7,587.5 390.1,588.1 390.5,590.7 390.9,591.7 391.3,591.8 391.7,588.6 392.1,589.9 392.5,590.1 392.9,591.5 393.3,591.6 393.7,592.1 394.1,592.1 394.5,592.4 394.9,592.8 395.3,590.9 395.7,591 396.1,594 396.5,589.7 396.9,594.5 397.3,592.1 397.7,595.4 398.1,593.5 398.5,594.3 398.9,593.9 399.3,592.2 399.7,592.3 400.1,590.9 400.5,590.8 400.9,589.1 401.3,589.6 401.7,590.1 402.1,590.1 402.5,591.2 402.9,588.4 403.3,584.5 403.7,584.5 404.1,577.8 404.5,576.8 404.9,575.2 405.3,574.1 405.7,572 406.1,567.7 406.5,563.5 406.9,565.2 407.3,562.9 407.7,569.2 408.1,570.4 408.5,572.8 408.9,572.7 409.3,578.2 409.7,580.9 410.1,583.2 410.5,583.7 410.9,586.6 411.3,588.2 411.7,590.7 412.1,591.8 412.5,590.1 412.9,591.3 413.3,591.2 413.7,590.3 414.1,593.1 414.5,591 414.9,593.5 415.3,591.4 415.7,593.8 416.1,593.7 416.5,590.4 416.9,592.9 417.3,591.5 417.7,593 418.1,593.2 418.5,590.7 418.9,592.8 419.3,593.2 419.7,592 420.1,589.7 420.5,593.5 420.9,591.5 421.3,593.2 421.7,594.3 422.1,593.9 422.5,593 422.9,590.7 423.3,588.5 423.7,584.2 424.1,581.8 424.5,579.6 424.9,576.4 425.3,572.7 425.7,571 426.1,564.6 426.5,567.3 426.9,566.8 427.3,566.7 427.7,567.4 428.1,566.9 428.5,568.1 428.9,569.3 429.3,568.3 429.7,568.5 430.1,566.3 430.5,565.5 430.9,565.4 431.3,566.3 431.7,564.5 432.1,564.3 432.5,565.6 432.9,562.4 433.3,566.1 433.7,566.2 434.1,565.4 434.5,567 434.9,563.3 435.3,563.8 435.7,564 436.1,566.4 436.5,565.7 436.9,560.7 437.3,563.1 437.7,565.4 438.1,564.2 438.5,564.6 438.9,561.3 439.3,562.2 439.7,562.4 440.1,564 440.5,560.9 440.9,561.1 441.3,561.9 441.7,556.3 442.1,556.6 442.5,556.9 442.9,558.9 443.3,558.1 443.7,556.7 444.1,556.4 444.5,551.9 444.9,555.4 445.3,555.1 445.7,552.5 446.1,554.5 446.5,554.8 446.9,554 447.3,552.4 447.7,553 448.1,550.2 448.5,550.6 448.9,547.9 449.3,549.1 449.7,543.2 450.1,542.4 450.5,538.9 450.9,533.8 451.3,532.4 451.7,534 452.1,538.5 452.5,541 452.9,546.6 453.3,547.2 453.7,545.6 454.1,543.1 454.5,540.7 454.9,537.1 455.3,533.6 455.7,527.9 456.1,526.7 456.5,521.5 456.9,521.3 457.3,517 457.7,520.2 458.1,515.5 458.5,520.1 458.9,520.4 459.3,520.6 459.7,517.3 460.1,518.1 460.5,517.9 460.9,514.8 461.3,517 461.7,514.1 462.1,518.6 462.5,518 462.9,518.3 463.3,517.8 463.7,514.6 464.1,519.3 464.5,518.7 464.9,515.6 465.3,520.4 465.7,517.2 466.1,519.2 466.5,520.4 466.9,519.8 467.3,517.4 467.7,516.4 468.1,513.5 468.5,514.2 468.9,509.2 469.3,511.6 469.7,508.1 470.1,509.7 470.5,510.1 470.9,505.7 471.3,506.8 471.7,509.2 472.1,509.8 472.5,505.9 472.9,510.8 473.3,512.5 473.7,511.3 474.1,509.6 474.5,510.9 474.9,511.6 475.3,506.9 475.7,510.9 476.1,511.3 476.5,511.8 476.9,511.1 477.3,511.8 477.7,509.9 478.1,511.4 478.5,511.6 478.9,511 479.3,510.9 479.7,509 480.1,511 480.5,509.9 480.9,509.9 481.3,510.2 481.7,508.1 482.1,505.5 482.5,509.6 482.9,509.4 483.3,504.4 483.7,508.1 484.1,508.6 484.5,510.5 484.9,509.3 485.3,510.9 485.7,508.6 486.1,510.7 486.5,507.4 486.9,509 487.3,509.2 487.7,510.3 488.1,510.8 488.5,509.4 488.9,512.1 489.3,510.8 489.7,509.8 490.1,513 490.5,511.6 490.9,508.9 491.3,507.7 491.7,510.1 492.1,511 492.5,508.5 492.5,520.1 492.1,524.3 491.7,521.9 491.3,523 490.9,521 490.5,522.6 490.1,524.8 489.7,522.4 489.3,525 488.9,521.6 488.5,521.1 488.1,520.7 487.7,521.8 487.3,520.9 486.9,524.1 486.5,522.4 486.1,525.6 485.7,520.5 485.3,521.1 484.9,524.2 484.5,521.2 484.1,522.4 483.7,521 483.3,520.6 482.9,522.6 482.5,522.7 482.1,520.5 481.7,521.4 481.3,522.4 480.9,522.3 480.5,521.9 480.1,523.4 479.7,523.3 479.3,524.6 478.9,521.5 478.5,523.3 478.1,523.2 477.7,523.6 477.3,523.2 476.9,525.4 476.5,524.2 476.1,521.6 475.7,521.4 475.3,527.5 474.9,522.8 474.5,527.7 474.1,523.9 473.7,523.5 473.3,523.4 472.9,523.1 472.5,522.7 472.1,521.4 471.7,520.5 471.3,520.5 470.9,522.1 470.5,522.5 470.1,524.2 469.7,521.2 469.3,524.9 468.9,526.2 468.5,525.5 468.1,528.1 467.7,527.3 467.3,530.9 466.9,531 466.5,531.5 466.1,533.3 465.7,532.2 465.3,532.3 464.9,530.1 464.5,531.4 464.1,529.7 463.7,529.1 463.3,531 462.9,529.3 462.5,528.8 462.1,532.1 461.7,533.8 461.3,532.4 460.9,530.6 460.5,530.2 460.1,530.2 459.7,530.8 459.3,534.5 458.9,532.6 458.5,531.7 458.1,532.3 457.7,531.6 457.3,536.9 456.9,536.6 456.5,539.2 456.1,544 455.7,543.7 455.3,549.1 454.9,553.1 454.5,556.8 454.1,558.8 453.7,559.3 453.3,560 452.9,561.7 452.5,559.1 452.1,557.2 451.7,550.4 451.3,548.3 450.9,554.6 450.5,553.2 450.1,555.4 449.7,561.2 449.3,560.6 448.9,565 448.5,562.6 448.1,563.5 447.7,568.6 447.3,564.5 446.9,567.7 446.5,567.2 446.1,567.9 445.7,565.7 445.3,566.6 444.9,569.8 444.5,570.7 444.1,566.9 443.7,573.1 443.3,569.1 442.9,569.7 442.5,569.5 442.1,572.3 441.7,570.7 441.3,573.5 440.9,573.4 440.5,575.6 440.1,575.7 439.7,573.4 439.3,576.5 438.9,576.2 438.5,575.8 438.1,579.4 437.7,577.6 437.3,575.6 436.9,574.8 436.5,575.5 436.1,576.2 435.7,576.5 435.3,576 434.9,579.7 434.5,576.5 434.1,577.5 433.7,575.7 433.3,576.9 432.9,575.1 432.5,578.9 432.1,577.3 431.7,575.8 431.3,578.6 430.9,578.3 430.5,578.3 430.1,578 429.7,578.4 429.3,578.4 428.9,579.7 428.5,581 428.1,578.3 427.7,581.1 427.3,577.3 426.9,580.6 426.5,577.3 426.1,581.1 425.7,580.4 425.3,582.5 424.9,586.4 424.5,592.7 424.1,592.6 423.7,596.5 423.3,598.6 422.9,601.5 422.5,602.3 422.1,602.4 421.7,603.7 421.3,604.1 420.9,604.8 420.5,606.7 420.1,607.2 419.7,603.1 419.3,604.7 418.9,602.6 418.5,604.1 418.1,604.4 417.7,604.1 417.3,603.3 416.9,601.9 416.5,601.6 416.1,602.3 415.7,602.3 415.3,602.4 414.9,606.3 414.5,605.8 414.1,601.5 413.7,602.5 413.3,603 412.9,601.7 412.5,601.5 412.1,602.8 411.7,600.9 411.3,600.2 410.9,596.9 410.5,594.7 410.1,591.4 409.7,589.1 409.3,589.7 408.9,585.9 408.5,583 408.1,583.5 407.7,578.9 407.3,576.3 406.9,574.2 406.5,576.8 406.1,578.8 405.7,583.3 405.3,584.8 404.9,586.7 404.5,589.8 404.1,591.3 403.7,594.8 403.3,601 402.9,599 402.5,600 402.1,599.1 401.7,602.2 401.3,598.3 400.9,603.2 400.5,600.7 400.1,604.4 399.7,604 399.3,602.4 398.9,604 398.5,603.8 398.1,603.3 397.7,605.8 397.3,606.2 396.9,603.7 396.5,607.2 396.1,604.4 395.7,601.5 395.3,601 394.9,601.4 394.5,605.4 394.1,604.8 393.7,603 393.3,603.3 392.9,601.1 392.5,602.4 392.1,600.7 391.7,601 391.3,601.1 390.9,601.1 390.5,602.2 390.1,601.3 389.7,599.2 389.3,597.4 388.9,593.8 388.5,591.2 388.1,587.8 387.7,585.8 387.3,578.9 386.9,577 386.5,579.7 386.1,581.5 385.7,585.6 385.3,591.1 384.9,594.3 384.5,596.7 384.1,601.7 383.7,602.6 383.3,602.4 382.9,600.2 382.5,603.7 382.1,600.5 381.7,601 381.3,602.8 380.9,601.4 380.5,600.9 380.1,603 379.7,601.5 379.3,601.1 378.9,601 378.5,600.2 378.1,601.8 377.7,603.9 377.3,600.3 376.9,600 376.5,602.8 376.1,600.3 375.7,601.5 375.3,603.5 374.9,601.9 374.5,599.6 374.1,596.7 373.7,588.5 373.3,597.4 372.9,603.8 372.5,604.7 372.1,603.5 371.7,601.8 371.3,600.4 370.9,604.8 370.5,601.5 370.1,602.4 369.7,602.3 369.3,602.3 368.9,604 368.5,602.6 368.1,603.1 367.7,604.1 367.3,603.8 366.9,604.3 366.5,605.9 366.1,606.4 365.7,603.9 365.3,601.8 364.9,601 364.5,603.2 364.1,602.2 363.7,602.5 363.3,604.8 362.9,602.6 362.5,601.3 362.1,605.4 361.7,604 361.3,602.1 360.9,596.8 360.5,594.2 360.1,597.9 359.7,601.1 359.3,603.9 358.9,601.6 358.5,601.6 358.1,601.2 357.7,602.1 357.3,600.5 356.9,601.5 356.5,602.7 356.1,602.9 355.7,602 355.3,601.2 354.9,603.9 354.5,603 354.1,603.6 353.7,605.5 353.3,602.8 352.9,600.9" fill="#168a45" stroke="#168a45" stroke-width="0.5" stroke-linejoin="round"/><polygon points="352.9,588.7 353.3,589.1 353.7,584.9 354.1,587.4 354.5,587.2 354.9,586.6 355.3,586.2 355.7,587.9 356.1,586.7 356.5,587.1 356.9,584.7 357.3,585.8 357.7,586.3 358.1,586.1 358.5,584.1 358.9,585.6 359.3,586.5 359.7,586.4 360.1,584 360.5,588.6 360.9,587.5 361.3,583.5 361.7,585.8 362.1,585.2 362.5,586.4 362.9,582.6 363.3,583.6 363.7,585 364.1,584.9 364.5,585.1 364.9,581.6 365.3,586.5 365.7,586.4 366.1,584.7 366.5,582.8 366.9,583.5 367.3,585.2 367.7,586.5 368.1,583.9 368.5,587.3 368.9,585.5 369.3,585.6 369.7,585.9 370.1,584.6 370.5,582.8 370.9,583.8 371.3,583.6 371.7,584.6 372.1,583.5 372.5,580.4 372.9,583.1 373.3,580.5 373.7,586 374.1,583.8 374.5,584.5 374.9,585.3 375.3,586.6 375.7,586.8 376.1,584.7 376.5,585.2 376.9,583.5 377.3,587.5 377.7,586.7 378.1,585.5 378.5,582.9 378.9,585.4 379.3,585.9 379.7,581.9 380.1,584.7 380.5,582.7 380.9,584.9 381.3,586 381.7,584.1 382.1,586.9 382.5,583.3 382.9,584.4 383.3,585.8 383.7,584 384.1,583.9 384.5,585.2 384.9,582 385.3,581.5 385.7,584.9 386.1,585.4 386.5,582.8 386.9,583.1 387.3,584.9 387.7,585.3 388.1,585.5 388.5,581.9 388.9,584.6 389.3,586.5 389.7,583.8 390.1,586.5 390.5,584.3 390.9,588.6 391.3,587 391.7,587.1 392.1,586.1 392.5,585 392.9,586.8 393.3,584.6 393.7,585.9 394.1,583.7 394.5,582.1 394.9,580.6 395.3,580.3 395.7,582.3 396.1,583.1 396.5,580 396.9,582.2 397.3,581.7 397.7,581.5 398.1,579.9 398.5,581.2 398.9,580.6 399.3,582.6 399.7,583.4 400.1,584.5 400.5,581.8 400.9,584.3 401.3,581.1 401.7,584.1 402.1,583.7 402.5,583.3 402.9,584.8 403.3,583.4 403.7,582.9 404.1,581.9 404.5,582 404.9,583.6 405.3,582.2 405.7,579.9 406.1,582.9 406.5,581.7 406.9,581.9 407.3,578.6 407.7,580.4 408.1,581.7 408.5,581.1 408.9,582.1 409.3,579.6 409.7,582.7 410.1,583.8 410.5,583.8 410.9,585.9 411.3,582.9 411.7,583.1 412.1,582.1 412.5,585.1 412.9,584.6 413.3,583.8 413.7,585.3 414.1,583.7 414.5,584 414.9,583.5 415.3,582 415.7,583.7 416.1,583.4 416.5,583.8 416.9,583.2 417.3,580.8 417.7,584.2 418.1,582.9 418.5,583.2 418.9,583.6 419.3,586 419.7,586.7 420.1,583.7 420.5,585 420.9,585.1 421.3,585.3 421.7,583.4 422.1,586.5 422.5,587.5 422.9,585.5 423.3,586 423.7,586.9 424.1,588.1 424.5,587.5 424.9,587.3 425.3,587.2 425.7,585.5 426.1,583.2 426.5,581.8 426.9,584.8 427.3,584.1 427.7,584 428.1,582.1 428.5,580.9 428.9,582.5 429.3,583.3 429.7,582.7 430.1,583.2 430.5,580.2 430.9,584.2 431.3,582.7 431.7,584.8 432.1,583.8 432.5,583.8 432.9,583.2 433.3,579.5 433.7,582.2 434.1,581.1 434.5,582.6 434.9,582.5 435.3,582 435.7,583.4 436.1,580.5 436.5,581.2 436.9,578.7 437.3,584.1 437.7,585.2 438.1,584.7 438.5,583 438.9,582.6 439.3,582.5 439.7,581.2 440.1,584 440.5,582.1 440.9,582.7 441.3,582 441.7,582.5 442.1,579.3 442.5,583.6 442.9,582.4 443.3,581.4 443.7,582.5 444.1,578.9 444.5,582.2 444.9,581.9 445.3,579.6 445.7,581.4 446.1,576 446.5,579 446.9,579.5 447.3,579.4 447.7,581.4 448.1,580 448.5,578.3 448.9,582.3 449.3,583.4 449.7,585.4 450.1,584.8 450.5,583.8 450.9,585 451.3,586.2 451.7,585.8 452.1,583.8 452.5,585 452.9,583.6 453.3,578.5 453.7,583.5 454.1,581.6 454.5,582.2 454.9,580.7 455.3,582 455.7,581.5 456.1,582.3 456.5,582.1 456.9,582.4 457.3,581.2 457.7,582.9 458.1,583 458.5,580.9 458.9,582.6 459.3,582.6 459.7,582.7 460.1,582.2 460.5,582.1 460.9,583.2 461.3,580 461.7,579.9 462.1,580.7 462.5,583.7 462.9,584.7 463.3,585.1 463.7,586.2 464.1,581.1 464.5,585.3 464.9,582.6 465.3,585.5 465.7,581.3 466.1,583.5 466.5,580.9 466.9,583 467.3,578.4 467.7,578.6 468.1,574.5 468.5,576.4 468.9,575.2 469.3,574.1 469.7,568.6 470.1,566.9 470.5,566.5 470.9,565.6 471.3,565.7 471.7,565.4 472.1,563.8 472.5,559.6 472.9,560.2 473.3,558.6 473.7,558.8 474.1,556 474.5,553 474.9,550.2 475.3,545 475.7,542.2 476.1,541.6 476.5,535.7 476.9,530.3 477.3,524.9 477.7,520.6 478.1,510.3 478.5,501.8 478.9,500.4 479.3,498.3 479.7,504.5 480.1,509.3 480.5,518 480.9,523.3 481.3,530 481.7,536.9 482.1,543.3 482.5,546.4 482.9,548.2 483.3,547.8 483.7,554 484.1,550.7 484.5,550.6 484.9,545.8 485.3,544.4 485.7,539.3 486.1,541.2 486.5,535.9 486.9,536.6 487.3,539 487.7,540.2 488.1,539.3 488.5,536.7 488.9,543.1 489.3,550.1 489.7,551.6 490.1,555.5 490.5,555.5 490.9,550.9 491.3,541.4 491.7,537.7 492.1,527.4 492.5,535 492.5,548.5 492.1,544.6 491.7,549.9 491.3,558.3 490.9,564.7 490.5,572.9 490.1,567.6 489.7,568.4 489.3,561.9 488.9,557 488.5,558.6 488.1,553.6 487.7,551.9 487.3,552.1 486.9,556.9 486.5,555.9 486.1,555.5 485.7,555.6 485.3,560.8 484.9,566 484.5,568.9 484.1,567.2 483.7,566.5 483.3,563.6 482.9,561.9 482.5,557.9 482.1,555.9 481.7,549.6 481.3,543.2 480.9,537.8 480.5,529.2 480.1,524.3 479.7,516.7 479.3,512.5 478.9,510.4 478.5,510.9 478.1,521.5 477.7,531.4 477.3,535.7 476.9,540.4 476.5,545.4 476.1,551.7 475.7,554.2 475.3,556 474.9,560.8 474.5,562.2 474.1,564.4 473.7,568.5 473.3,569.2 472.9,571.7 472.5,571.1 472.1,574.7 471.7,573.6 471.3,576.8 470.9,576.6 470.5,578.8 470.1,579.5 469.7,582 469.3,582.3 468.9,585.7 468.5,585.2 468.1,586.6 467.7,589.8 467.3,590.7 466.9,591.9 466.5,595.3 466.1,593.5 465.7,593.5 465.3,596.8 464.9,594.8 464.5,595.2 464.1,596.1 463.7,594.9 463.3,594.7 462.9,595.9 462.5,594.4 462.1,595 461.7,594.2 461.3,593.8 460.9,593.7 460.5,593.5 460.1,592.8 459.7,594.8 459.3,592.5 458.9,593.1 458.5,593.2 458.1,596.6 457.7,592.7 457.3,595.2 456.9,593.7 456.5,592 456.1,591.7 455.7,591.1 455.3,591.2 454.9,594.9 454.5,593.6 454.1,592.8 453.7,595.2 453.3,594.2 452.9,594.6 452.5,595.2 452.1,594.3 451.7,594.9 451.3,594.7 450.9,595.2 450.5,597.7 450.1,595.4 449.7,596 449.3,598 448.9,596.3 448.5,591.4 448.1,593.2 447.7,591.8 447.3,591.1 446.9,589.5 446.5,590 446.1,590.4 445.7,591.5 445.3,591.7 444.9,592.1 444.5,592.7 444.1,592.2 443.7,591.5 443.3,592 442.9,592.9 442.5,593.4 442.1,592.3 441.7,592.1 441.3,590.8 440.9,591.9 440.5,593 440.1,595.6 439.7,595.8 439.3,593.7 438.9,596.1 438.5,594.6 438.1,594.5 437.7,596.8 437.3,592.6 436.9,592.2 436.5,595.1 436.1,591.2 435.7,596.9 435.3,591.4 434.9,593.1 434.5,596.2 434.1,593.9 433.7,592 433.3,593.2 432.9,592.3 432.5,596.8 432.1,593.5 431.7,595.2 431.3,592.7 430.9,596.1 430.5,594.7 430.1,594.5 429.7,593.5 429.3,593.2 428.9,592.7 428.5,592.6 428.1,593.4 427.7,593.9 427.3,596.4 426.9,594.1 426.5,595.3 426.1,595.5 425.7,595.9 425.3,601.1 424.9,597.3 424.5,600.3 424.1,597.1 423.7,601.5 423.3,597.1 422.9,598.6 422.5,597.2 422.1,598.3 421.7,597.1 421.3,598.1 420.9,596.4 420.5,597.7 420.1,598.6 419.7,596.4 419.3,595.4 418.9,598.6 418.5,596.6 418.1,594.5 417.7,594.6 417.3,592.2 416.9,594 416.5,597.4 416.1,592.4 415.7,594.7 415.3,593.9 414.9,592.5 414.5,596.7 414.1,595.6 413.7,597.3 413.3,594.3 412.9,594.5 412.5,594.3 412.1,596.7 411.7,596.8 411.3,595.2 410.9,596.2 410.5,595.8 410.1,592.6 409.7,591.9 409.3,594.4 408.9,590.8 408.5,593.6 408.1,591.1 407.7,592 407.3,590.8 406.9,591.7 406.5,592.1 406.1,594.8 405.7,596.8 405.3,593.3 404.9,593.3 404.5,592.6 404.1,595.2 403.7,593.5 403.3,593 402.9,595.8 402.5,594.2 402.1,595.1 401.7,595.3 401.3,592.5 400.9,595.8 400.5,595.2 400.1,595.1 399.7,593.9 399.3,593.1 398.9,591.5 398.5,591.4 398.1,592.5 397.7,591 397.3,590.2 396.9,591.1 396.5,591.3 396.1,593.1 395.7,592.8 395.3,595.2 394.9,592.6 394.5,592.8 394.1,598.1 393.7,597.3 393.3,596.6 392.9,596.2 392.5,595.9 392.1,596.3 391.7,598.2 391.3,599.6 390.9,597.6 390.5,596.8 390.1,597.1 389.7,598 389.3,594.9 388.9,596.7 388.5,595.5 388.1,599.6 387.7,596.1 387.3,594.2 386.9,595.4 386.5,594.8 386.1,594.4 385.7,595.1 385.3,592.8 384.9,595.8 384.5,595.7 384.1,594.3 383.7,594.9 383.3,596.7 382.9,594.1 382.5,598.7 382.1,596.5 381.7,596.2 381.3,597.5 380.9,595.2 380.5,597 380.1,595.9 379.7,598.4 379.3,596.4 378.9,594.6 378.5,595.9 378.1,596.3 377.7,595.8 377.3,596.4 376.9,601.1 376.5,597.9 376.1,599.3 375.7,595.9 375.3,598 374.9,595.3 374.5,596.9 374.1,594.7 373.7,594.9 373.3,593.9 372.9,594.8 372.5,593.9 372.1,595 371.7,596.2 371.3,598.9 370.9,596.7 370.5,593.5 370.1,594.9 369.7,597 369.3,595.1 368.9,596.2 368.5,595.9 368.1,598.9 367.7,599.7 367.3,595.7 366.9,599.4 366.5,596.7 366.1,595.5 365.7,595.8 365.3,596.3 364.9,594.6 364.5,594.8 364.1,598.6 363.7,595.9 363.3,597.7 362.9,598.1 362.5,595.6 362.1,595.6 361.7,596 361.3,597.7 360.9,597.8 360.5,599.7 360.1,595.9 359.7,596.6 359.3,596.3 358.9,596.7 358.5,601.4 358.1,597.5 357.7,598.6 357.3,595.9 356.9,596.9 356.5,596.8 356.1,598.7 355.7,599 355.3,600.3 354.9,597.3 354.5,597.5 354.1,600.6 353.7,601.5 353.3,602.3 352.9,599.4" fill="#3951a3" stroke="#3951a3" stroke-width="0.5" stroke-linejoin="round"/>
<g fill="none" stroke="#8e8e8e" stroke-width="1.1"><rect x="352.4" y="486.1" width="140.4" height="140.8"/><path d="M344.9 486.1H352.4 M344.9 626.9H352.4 M352.4 626.9V634.4 M492.8 626.9V634.4"/></g>
<text x="338.5" y="491.9" text-anchor="end" font-size="16.4">1.5</text>
<text x="338.5" y="631.9" text-anchor="end" font-size="16.4">0</text>
<text x="352.1" y="653.1" text-anchor="middle" font-size="16.4">0</text>
<text x="492.3" y="653.1" text-anchor="middle" font-size="16.4">7</text>
<text transform="translate(307.1 556.7) rotate(-90)" text-anchor="middle" font-size="16.4">RMSD (nm)</text>
<text x="429.7" y="679.9" text-anchor="middle" font-size="16.4">Time (<tspan font-family="'Liberation Serif', 'DejaVu Serif', serif">μ</tspan>s)</text>
<text x="423.3" y="504.7" text-anchor="middle" font-size="16.4">10</text>
</g>
</g>
</svg>
</body>
</html>
